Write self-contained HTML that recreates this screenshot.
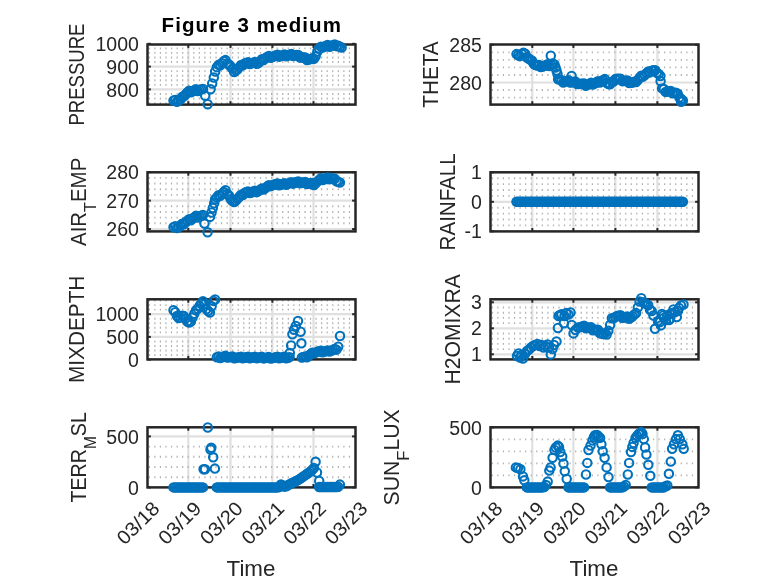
<!DOCTYPE html><html><head><meta charset="utf-8"><style>html,body{margin:0;padding:0;background:#fff;width:778px;height:583px;overflow:hidden}svg{display:block;will-change:transform}text{font-family:"Liberation Sans",sans-serif}</style></head><body>
<svg width="778" height="583" viewBox="0 0 778 583">
<g>
<line x1="188.3" y1="44.5" x2="188.3" y2="104.6" stroke="#e0e0e0" stroke-width="2.2"/>
<line x1="230.5" y1="44.5" x2="230.5" y2="104.6" stroke="#e0e0e0" stroke-width="2.2"/>
<line x1="272.4" y1="44.5" x2="272.4" y2="104.6" stroke="#e0e0e0" stroke-width="2.2"/>
<line x1="313.5" y1="44.5" x2="313.5" y2="104.6" stroke="#e0e0e0" stroke-width="2.2"/>
<line x1="147.5" y1="66.6" x2="355.5" y2="66.6" stroke="#e0e0e0" stroke-width="2.2"/>
<line x1="147.5" y1="89.4" x2="355.5" y2="89.4" stroke="#e0e0e0" stroke-width="2.2"/>
<line x1="148.7" y1="103.08" x2="354.3" y2="103.08" stroke="#b0b0b0" stroke-width="1.9" stroke-dasharray="1.2 4.36" stroke-dashoffset="-0"/>
<line x1="148.7" y1="98.52" x2="354.3" y2="98.52" stroke="#b0b0b0" stroke-width="1.9" stroke-dasharray="1.2 4.36" stroke-dashoffset="-0"/>
<line x1="148.7" y1="93.96" x2="354.3" y2="93.96" stroke="#b0b0b0" stroke-width="1.9" stroke-dasharray="1.2 4.36" stroke-dashoffset="-0"/>
<line x1="148.7" y1="84.84" x2="354.3" y2="84.84" stroke="#b0b0b0" stroke-width="1.9" stroke-dasharray="1.2 4.36" stroke-dashoffset="-0"/>
<line x1="148.7" y1="80.28" x2="354.3" y2="80.28" stroke="#b0b0b0" stroke-width="1.9" stroke-dasharray="1.2 4.36" stroke-dashoffset="-0"/>
<line x1="148.7" y1="75.72" x2="354.3" y2="75.72" stroke="#b0b0b0" stroke-width="1.9" stroke-dasharray="1.2 4.36" stroke-dashoffset="-0"/>
<line x1="148.7" y1="71.16" x2="354.3" y2="71.16" stroke="#b0b0b0" stroke-width="1.9" stroke-dasharray="1.2 4.36" stroke-dashoffset="-0"/>
<line x1="148.7" y1="62.04" x2="354.3" y2="62.04" stroke="#b0b0b0" stroke-width="1.9" stroke-dasharray="1.2 4.36" stroke-dashoffset="-0"/>
<line x1="148.7" y1="57.48" x2="354.3" y2="57.48" stroke="#b0b0b0" stroke-width="1.9" stroke-dasharray="1.2 4.36" stroke-dashoffset="-0"/>
<line x1="148.7" y1="52.92" x2="354.3" y2="52.92" stroke="#b0b0b0" stroke-width="1.9" stroke-dasharray="1.2 4.36" stroke-dashoffset="-0"/>
<line x1="148.7" y1="48.36" x2="354.3" y2="48.36" stroke="#b0b0b0" stroke-width="1.9" stroke-dasharray="1.2 4.36" stroke-dashoffset="-0"/>
<line x1="188.3" y1="104.6" x2="188.3" y2="101.2" stroke="#262626" stroke-width="2"/>
<line x1="188.3" y1="44.5" x2="188.3" y2="47.9" stroke="#262626" stroke-width="2"/>
<line x1="230.5" y1="104.6" x2="230.5" y2="101.2" stroke="#262626" stroke-width="2"/>
<line x1="230.5" y1="44.5" x2="230.5" y2="47.9" stroke="#262626" stroke-width="2"/>
<line x1="272.4" y1="104.6" x2="272.4" y2="101.2" stroke="#262626" stroke-width="2"/>
<line x1="272.4" y1="44.5" x2="272.4" y2="47.9" stroke="#262626" stroke-width="2"/>
<line x1="313.5" y1="104.6" x2="313.5" y2="101.2" stroke="#262626" stroke-width="2"/>
<line x1="313.5" y1="44.5" x2="313.5" y2="47.9" stroke="#262626" stroke-width="2"/>
<line x1="147.5" y1="43.8" x2="150.9" y2="43.8" stroke="#262626" stroke-width="2"/>
<line x1="355.5" y1="43.8" x2="352.1" y2="43.8" stroke="#262626" stroke-width="2"/>
<line x1="147.5" y1="66.6" x2="150.9" y2="66.6" stroke="#262626" stroke-width="2"/>
<line x1="355.5" y1="66.6" x2="352.1" y2="66.6" stroke="#262626" stroke-width="2"/>
<line x1="147.5" y1="89.4" x2="150.9" y2="89.4" stroke="#262626" stroke-width="2"/>
<line x1="355.5" y1="89.4" x2="352.1" y2="89.4" stroke="#262626" stroke-width="2"/>
<rect x="147.5" y="44.5" width="208" height="60.1" fill="none" stroke="#262626" stroke-width="2.5"/>
<text transform="translate(138.9,50.9) scale(1.0,1)" x="0" y="0" font-size="19.5" fill="#262626" text-anchor="end">1000</text>
<text transform="translate(138.9,73.7) scale(1.0,1)" x="0" y="0" font-size="19.5" fill="#262626" text-anchor="end">900</text>
<text transform="translate(138.9,96.5) scale(1.0,1)" x="0" y="0" font-size="19.5" fill="#262626" text-anchor="end">800</text>
<text transform="translate(83.8,74.55) rotate(-90) scale(0.8621,1)" x="0" y="0" font-size="21.5" fill="#262626" text-anchor="middle"><tspan>PRESSURE</tspan></text>
<circle cx="173.5" cy="100.6" r="4.2" fill="none" stroke="#0072bd" stroke-width="2.1"/>
<circle cx="175.23" cy="99.88" r="4.2" fill="none" stroke="#0072bd" stroke-width="2.1"/>
<circle cx="176.97" cy="101.76" r="4.2" fill="none" stroke="#0072bd" stroke-width="2.1"/>
<circle cx="178.7" cy="100.58" r="4.2" fill="none" stroke="#0072bd" stroke-width="2.1"/>
<circle cx="180.43" cy="99.4" r="4.2" fill="none" stroke="#0072bd" stroke-width="2.1"/>
<circle cx="182.17" cy="96.84" r="4.2" fill="none" stroke="#0072bd" stroke-width="2.1"/>
<circle cx="183.9" cy="96.22" r="4.2" fill="none" stroke="#0072bd" stroke-width="2.1"/>
<circle cx="185.63" cy="94.34" r="4.2" fill="none" stroke="#0072bd" stroke-width="2.1"/>
<circle cx="187.37" cy="92.54" r="4.2" fill="none" stroke="#0072bd" stroke-width="2.1"/>
<circle cx="189.1" cy="90.78" r="4.2" fill="none" stroke="#0072bd" stroke-width="2.1"/>
<circle cx="190.83" cy="92.3" r="4.2" fill="none" stroke="#0072bd" stroke-width="2.1"/>
<circle cx="192.57" cy="91.21" r="4.2" fill="none" stroke="#0072bd" stroke-width="2.1"/>
<circle cx="194.3" cy="90.13" r="4.2" fill="none" stroke="#0072bd" stroke-width="2.1"/>
<circle cx="196.03" cy="89.2" r="4.2" fill="none" stroke="#0072bd" stroke-width="2.1"/>
<circle cx="197.77" cy="90.98" r="4.2" fill="none" stroke="#0072bd" stroke-width="2.1"/>
<circle cx="199.5" cy="90.15" r="4.2" fill="none" stroke="#0072bd" stroke-width="2.1"/>
<circle cx="201.23" cy="89.38" r="4.2" fill="none" stroke="#0072bd" stroke-width="2.1"/>
<circle cx="202.97" cy="88.9" r="4.2" fill="none" stroke="#0072bd" stroke-width="2.1"/>
<circle cx="205.2" cy="95.8" r="4.2" fill="none" stroke="#0072bd" stroke-width="2.1"/>
<circle cx="207.7" cy="104.2" r="4.2" fill="none" stroke="#0072bd" stroke-width="2.1"/>
<circle cx="210.6" cy="89.2" r="4.2" fill="none" stroke="#0072bd" stroke-width="2.1"/>
<circle cx="212.2" cy="83.5" r="4.2" fill="none" stroke="#0072bd" stroke-width="2.1"/>
<circle cx="213.8" cy="77.5" r="4.2" fill="none" stroke="#0072bd" stroke-width="2.1"/>
<circle cx="215.2" cy="71.5" r="4.2" fill="none" stroke="#0072bd" stroke-width="2.1"/>
<circle cx="216.83" cy="67.13" r="4.2" fill="none" stroke="#0072bd" stroke-width="2.1"/>
<circle cx="218.57" cy="64.87" r="4.2" fill="none" stroke="#0072bd" stroke-width="2.1"/>
<circle cx="220.3" cy="65.21" r="4.2" fill="none" stroke="#0072bd" stroke-width="2.1"/>
<circle cx="222.03" cy="63.21" r="4.2" fill="none" stroke="#0072bd" stroke-width="2.1"/>
<circle cx="223.77" cy="61.24" r="4.2" fill="none" stroke="#0072bd" stroke-width="2.1"/>
<circle cx="225.5" cy="60.09" r="4.2" fill="none" stroke="#0072bd" stroke-width="2.1"/>
<circle cx="227.23" cy="63.59" r="4.2" fill="none" stroke="#0072bd" stroke-width="2.1"/>
<circle cx="228.97" cy="64.48" r="4.2" fill="none" stroke="#0072bd" stroke-width="2.1"/>
<circle cx="230.7" cy="66.54" r="4.2" fill="none" stroke="#0072bd" stroke-width="2.1"/>
<circle cx="232.43" cy="68.61" r="4.2" fill="none" stroke="#0072bd" stroke-width="2.1"/>
<circle cx="234.17" cy="71.95" r="4.2" fill="none" stroke="#0072bd" stroke-width="2.1"/>
<circle cx="235.9" cy="70.56" r="4.2" fill="none" stroke="#0072bd" stroke-width="2.1"/>
<circle cx="237.63" cy="69.17" r="4.2" fill="none" stroke="#0072bd" stroke-width="2.1"/>
<circle cx="239.37" cy="67.13" r="4.2" fill="none" stroke="#0072bd" stroke-width="2.1"/>
<circle cx="241.1" cy="64.92" r="4.2" fill="none" stroke="#0072bd" stroke-width="2.1"/>
<circle cx="242.83" cy="65.31" r="4.2" fill="none" stroke="#0072bd" stroke-width="2.1"/>
<circle cx="244.57" cy="63.59" r="4.2" fill="none" stroke="#0072bd" stroke-width="2.1"/>
<circle cx="246.3" cy="62.88" r="4.2" fill="none" stroke="#0072bd" stroke-width="2.1"/>
<circle cx="248.03" cy="62.18" r="4.2" fill="none" stroke="#0072bd" stroke-width="2.1"/>
<circle cx="249.77" cy="64.07" r="4.2" fill="none" stroke="#0072bd" stroke-width="2.1"/>
<circle cx="251.5" cy="63.36" r="4.2" fill="none" stroke="#0072bd" stroke-width="2.1"/>
<circle cx="253.23" cy="62.66" r="4.2" fill="none" stroke="#0072bd" stroke-width="2.1"/>
<circle cx="254.97" cy="61.96" r="4.2" fill="none" stroke="#0072bd" stroke-width="2.1"/>
<circle cx="256.7" cy="63.86" r="4.2" fill="none" stroke="#0072bd" stroke-width="2.1"/>
<circle cx="258.43" cy="63.15" r="4.2" fill="none" stroke="#0072bd" stroke-width="2.1"/>
<circle cx="260.17" cy="61.19" r="4.2" fill="none" stroke="#0072bd" stroke-width="2.1"/>
<circle cx="261.9" cy="59.19" r="4.2" fill="none" stroke="#0072bd" stroke-width="2.1"/>
<circle cx="263.63" cy="59.95" r="4.2" fill="none" stroke="#0072bd" stroke-width="2.1"/>
<circle cx="265.37" cy="58.13" r="4.2" fill="none" stroke="#0072bd" stroke-width="2.1"/>
<circle cx="267.1" cy="57" r="4.2" fill="none" stroke="#0072bd" stroke-width="2.1"/>
<circle cx="268.83" cy="55.99" r="4.2" fill="none" stroke="#0072bd" stroke-width="2.1"/>
<circle cx="270.57" cy="57.67" r="4.2" fill="none" stroke="#0072bd" stroke-width="2.1"/>
<circle cx="272.3" cy="56.94" r="4.2" fill="none" stroke="#0072bd" stroke-width="2.1"/>
<circle cx="274.03" cy="56.21" r="4.2" fill="none" stroke="#0072bd" stroke-width="2.1"/>
<circle cx="275.77" cy="55.49" r="4.2" fill="none" stroke="#0072bd" stroke-width="2.1"/>
<circle cx="277.5" cy="54.76" r="4.2" fill="none" stroke="#0072bd" stroke-width="2.1"/>
<circle cx="279.23" cy="56.63" r="4.2" fill="none" stroke="#0072bd" stroke-width="2.1"/>
<circle cx="280.97" cy="55.88" r="4.2" fill="none" stroke="#0072bd" stroke-width="2.1"/>
<circle cx="282.7" cy="55.14" r="4.2" fill="none" stroke="#0072bd" stroke-width="2.1"/>
<circle cx="284.43" cy="54.39" r="4.2" fill="none" stroke="#0072bd" stroke-width="2.1"/>
<circle cx="286.17" cy="56.25" r="4.2" fill="none" stroke="#0072bd" stroke-width="2.1"/>
<circle cx="287.9" cy="55.51" r="4.2" fill="none" stroke="#0072bd" stroke-width="2.1"/>
<circle cx="289.63" cy="54.76" r="4.2" fill="none" stroke="#0072bd" stroke-width="2.1"/>
<circle cx="291.37" cy="54.02" r="4.2" fill="none" stroke="#0072bd" stroke-width="2.1"/>
<circle cx="293.1" cy="55.92" r="4.2" fill="none" stroke="#0072bd" stroke-width="2.1"/>
<circle cx="294.83" cy="55.3" r="4.2" fill="none" stroke="#0072bd" stroke-width="2.1"/>
<circle cx="296.57" cy="54.88" r="4.2" fill="none" stroke="#0072bd" stroke-width="2.1"/>
<circle cx="298.3" cy="54.88" r="4.2" fill="none" stroke="#0072bd" stroke-width="2.1"/>
<circle cx="300.03" cy="57.48" r="4.2" fill="none" stroke="#0072bd" stroke-width="2.1"/>
<circle cx="301.77" cy="57.48" r="4.2" fill="none" stroke="#0072bd" stroke-width="2.1"/>
<circle cx="303.5" cy="57.48" r="4.2" fill="none" stroke="#0072bd" stroke-width="2.1"/>
<circle cx="305.23" cy="57.48" r="4.2" fill="none" stroke="#0072bd" stroke-width="2.1"/>
<circle cx="306.97" cy="59.98" r="4.2" fill="none" stroke="#0072bd" stroke-width="2.1"/>
<circle cx="308.7" cy="59.52" r="4.2" fill="none" stroke="#0072bd" stroke-width="2.1"/>
<circle cx="310.43" cy="59.05" r="4.2" fill="none" stroke="#0072bd" stroke-width="2.1"/>
<circle cx="312.17" cy="58.58" r="4.2" fill="none" stroke="#0072bd" stroke-width="2.1"/>
<circle cx="313.9" cy="58.87" r="4.2" fill="none" stroke="#0072bd" stroke-width="2.1"/>
<circle cx="315.63" cy="56.32" r="4.2" fill="none" stroke="#0072bd" stroke-width="2.1"/>
<circle cx="317.37" cy="51.54" r="4.2" fill="none" stroke="#0072bd" stroke-width="2.1"/>
<circle cx="319.1" cy="48.58" r="4.2" fill="none" stroke="#0072bd" stroke-width="2.1"/>
<circle cx="320.83" cy="46.65" r="4.2" fill="none" stroke="#0072bd" stroke-width="2.1"/>
<circle cx="322.57" cy="47.66" r="4.2" fill="none" stroke="#0072bd" stroke-width="2.1"/>
<circle cx="324.3" cy="46.74" r="4.2" fill="none" stroke="#0072bd" stroke-width="2.1"/>
<circle cx="326.03" cy="45.82" r="4.2" fill="none" stroke="#0072bd" stroke-width="2.1"/>
<circle cx="327.77" cy="44.9" r="4.2" fill="none" stroke="#0072bd" stroke-width="2.1"/>
<circle cx="329.5" cy="46.74" r="4.2" fill="none" stroke="#0072bd" stroke-width="2.1"/>
<circle cx="331.23" cy="45.97" r="4.2" fill="none" stroke="#0072bd" stroke-width="2.1"/>
<circle cx="332.97" cy="45.21" r="4.2" fill="none" stroke="#0072bd" stroke-width="2.1"/>
<circle cx="334.7" cy="44.41" r="4.2" fill="none" stroke="#0072bd" stroke-width="2.1"/>
<circle cx="336.43" cy="46.16" r="4.2" fill="none" stroke="#0072bd" stroke-width="2.1"/>
<circle cx="338.17" cy="45.8" r="4.2" fill="none" stroke="#0072bd" stroke-width="2.1"/>
<circle cx="339.9" cy="46.77" r="4.2" fill="none" stroke="#0072bd" stroke-width="2.1"/>
<circle cx="341.63" cy="47.62" r="4.2" fill="none" stroke="#0072bd" stroke-width="2.1"/>
</g>
<g>
<line x1="532.3" y1="44.5" x2="532.3" y2="104.6" stroke="#e0e0e0" stroke-width="2.2"/>
<line x1="573.4" y1="44.5" x2="573.4" y2="104.6" stroke="#e0e0e0" stroke-width="2.2"/>
<line x1="615.4" y1="44.5" x2="615.4" y2="104.6" stroke="#e0e0e0" stroke-width="2.2"/>
<line x1="657.4" y1="44.5" x2="657.4" y2="104.6" stroke="#e0e0e0" stroke-width="2.2"/>
<line x1="490.5" y1="82.5" x2="698.5" y2="82.5" stroke="#e0e0e0" stroke-width="2.2"/>
<line x1="491.7" y1="97.58" x2="697.3" y2="97.58" stroke="#b0b0b0" stroke-width="1.9" stroke-dasharray="1.2 4.36" stroke-dashoffset="-0"/>
<line x1="491.7" y1="90.04" x2="697.3" y2="90.04" stroke="#b0b0b0" stroke-width="1.9" stroke-dasharray="1.2 4.36" stroke-dashoffset="-0"/>
<line x1="491.7" y1="74.96" x2="697.3" y2="74.96" stroke="#b0b0b0" stroke-width="1.9" stroke-dasharray="1.2 4.36" stroke-dashoffset="-0"/>
<line x1="491.7" y1="67.42" x2="697.3" y2="67.42" stroke="#b0b0b0" stroke-width="1.9" stroke-dasharray="1.2 4.36" stroke-dashoffset="-0"/>
<line x1="491.7" y1="59.88" x2="697.3" y2="59.88" stroke="#b0b0b0" stroke-width="1.9" stroke-dasharray="1.2 4.36" stroke-dashoffset="-0"/>
<line x1="491.7" y1="52.34" x2="697.3" y2="52.34" stroke="#b0b0b0" stroke-width="1.9" stroke-dasharray="1.2 4.36" stroke-dashoffset="-0"/>
<line x1="532.3" y1="104.6" x2="532.3" y2="101.2" stroke="#262626" stroke-width="2"/>
<line x1="532.3" y1="44.5" x2="532.3" y2="47.9" stroke="#262626" stroke-width="2"/>
<line x1="573.4" y1="104.6" x2="573.4" y2="101.2" stroke="#262626" stroke-width="2"/>
<line x1="573.4" y1="44.5" x2="573.4" y2="47.9" stroke="#262626" stroke-width="2"/>
<line x1="615.4" y1="104.6" x2="615.4" y2="101.2" stroke="#262626" stroke-width="2"/>
<line x1="615.4" y1="44.5" x2="615.4" y2="47.9" stroke="#262626" stroke-width="2"/>
<line x1="657.4" y1="104.6" x2="657.4" y2="101.2" stroke="#262626" stroke-width="2"/>
<line x1="657.4" y1="44.5" x2="657.4" y2="47.9" stroke="#262626" stroke-width="2"/>
<line x1="490.5" y1="44.8" x2="493.9" y2="44.8" stroke="#262626" stroke-width="2"/>
<line x1="698.5" y1="44.8" x2="695.1" y2="44.8" stroke="#262626" stroke-width="2"/>
<line x1="490.5" y1="82.5" x2="493.9" y2="82.5" stroke="#262626" stroke-width="2"/>
<line x1="698.5" y1="82.5" x2="695.1" y2="82.5" stroke="#262626" stroke-width="2"/>
<rect x="490.5" y="44.5" width="208" height="60.1" fill="none" stroke="#262626" stroke-width="2.5"/>
<text transform="translate(481.9,51.9) scale(1.0,1)" x="0" y="0" font-size="19.5" fill="#262626" text-anchor="end">285</text>
<text transform="translate(481.9,89.6) scale(1.0,1)" x="0" y="0" font-size="19.5" fill="#262626" text-anchor="end">280</text>
<text transform="translate(437.9,74.55) rotate(-90) scale(0.9638,1)" x="0" y="0" font-size="21.5" fill="#262626" text-anchor="middle"><tspan>THETA</tspan></text>
<circle cx="516.5" cy="54.1" r="4.2" fill="none" stroke="#0072bd" stroke-width="2.1"/>
<circle cx="518.23" cy="55.21" r="4.2" fill="none" stroke="#0072bd" stroke-width="2.1"/>
<circle cx="519.97" cy="56.15" r="4.2" fill="none" stroke="#0072bd" stroke-width="2.1"/>
<circle cx="521.7" cy="53.99" r="4.2" fill="none" stroke="#0072bd" stroke-width="2.1"/>
<circle cx="523.43" cy="52.65" r="4.2" fill="none" stroke="#0072bd" stroke-width="2.1"/>
<circle cx="525.17" cy="53.76" r="4.2" fill="none" stroke="#0072bd" stroke-width="2.1"/>
<circle cx="526.9" cy="57.47" r="4.2" fill="none" stroke="#0072bd" stroke-width="2.1"/>
<circle cx="528.63" cy="58.58" r="4.2" fill="none" stroke="#0072bd" stroke-width="2.1"/>
<circle cx="530.37" cy="59.69" r="4.2" fill="none" stroke="#0072bd" stroke-width="2.1"/>
<circle cx="532.1" cy="60.78" r="4.2" fill="none" stroke="#0072bd" stroke-width="2.1"/>
<circle cx="533.83" cy="64.15" r="4.2" fill="none" stroke="#0072bd" stroke-width="2.1"/>
<circle cx="535.57" cy="64.92" r="4.2" fill="none" stroke="#0072bd" stroke-width="2.1"/>
<circle cx="537.3" cy="65.46" r="4.2" fill="none" stroke="#0072bd" stroke-width="2.1"/>
<circle cx="539.03" cy="64.97" r="4.2" fill="none" stroke="#0072bd" stroke-width="2.1"/>
<circle cx="540.77" cy="67.08" r="4.2" fill="none" stroke="#0072bd" stroke-width="2.1"/>
<circle cx="542.5" cy="66.59" r="4.2" fill="none" stroke="#0072bd" stroke-width="2.1"/>
<circle cx="544.23" cy="65.98" r="4.2" fill="none" stroke="#0072bd" stroke-width="2.1"/>
<circle cx="545.97" cy="65.11" r="4.2" fill="none" stroke="#0072bd" stroke-width="2.1"/>
<circle cx="547.7" cy="64.25" r="4.2" fill="none" stroke="#0072bd" stroke-width="2.1"/>
<circle cx="549.43" cy="65.98" r="4.2" fill="none" stroke="#0072bd" stroke-width="2.1"/>
<circle cx="551.17" cy="65" r="4.2" fill="none" stroke="#0072bd" stroke-width="2.1"/>
<circle cx="552.9" cy="63.59" r="4.2" fill="none" stroke="#0072bd" stroke-width="2.1"/>
<circle cx="550.8" cy="55.7" r="4.2" fill="none" stroke="#0072bd" stroke-width="2.1"/>
<circle cx="554.5" cy="64.5" r="4.2" fill="none" stroke="#0072bd" stroke-width="2.1"/>
<circle cx="555.5" cy="67.5" r="4.2" fill="none" stroke="#0072bd" stroke-width="2.1"/>
<circle cx="556.5" cy="70.5" r="4.2" fill="none" stroke="#0072bd" stroke-width="2.1"/>
<circle cx="557.5" cy="74" r="4.2" fill="none" stroke="#0072bd" stroke-width="2.1"/>
<circle cx="571.6" cy="76" r="4.2" fill="none" stroke="#0072bd" stroke-width="2.1"/>
<circle cx="660.6" cy="81.2" r="4.2" fill="none" stroke="#0072bd" stroke-width="2.1"/>
<circle cx="681.1" cy="101.7" r="4.2" fill="none" stroke="#0072bd" stroke-width="2.1"/>
<circle cx="558.1" cy="79.28" r="4.2" fill="none" stroke="#0072bd" stroke-width="2.1"/>
<circle cx="559.83" cy="79.62" r="4.2" fill="none" stroke="#0072bd" stroke-width="2.1"/>
<circle cx="561.57" cy="80.23" r="4.2" fill="none" stroke="#0072bd" stroke-width="2.1"/>
<circle cx="563.3" cy="82.42" r="4.2" fill="none" stroke="#0072bd" stroke-width="2.1"/>
<circle cx="565.03" cy="81.65" r="4.2" fill="none" stroke="#0072bd" stroke-width="2.1"/>
<circle cx="566.77" cy="80.89" r="4.2" fill="none" stroke="#0072bd" stroke-width="2.1"/>
<circle cx="568.5" cy="80.21" r="4.2" fill="none" stroke="#0072bd" stroke-width="2.1"/>
<circle cx="570.23" cy="82.51" r="4.2" fill="none" stroke="#0072bd" stroke-width="2.1"/>
<circle cx="571.97" cy="82.2" r="4.2" fill="none" stroke="#0072bd" stroke-width="2.1"/>
<circle cx="573.7" cy="81.89" r="4.2" fill="none" stroke="#0072bd" stroke-width="2.1"/>
<circle cx="575.43" cy="81.59" r="4.2" fill="none" stroke="#0072bd" stroke-width="2.1"/>
<circle cx="577.17" cy="84.02" r="4.2" fill="none" stroke="#0072bd" stroke-width="2.1"/>
<circle cx="578.9" cy="83.9" r="4.2" fill="none" stroke="#0072bd" stroke-width="2.1"/>
<circle cx="580.63" cy="83.78" r="4.2" fill="none" stroke="#0072bd" stroke-width="2.1"/>
<circle cx="582.37" cy="83.66" r="4.2" fill="none" stroke="#0072bd" stroke-width="2.1"/>
<circle cx="584.1" cy="83.54" r="4.2" fill="none" stroke="#0072bd" stroke-width="2.1"/>
<circle cx="585.83" cy="85.72" r="4.2" fill="none" stroke="#0072bd" stroke-width="2.1"/>
<circle cx="587.57" cy="84.77" r="4.2" fill="none" stroke="#0072bd" stroke-width="2.1"/>
<circle cx="589.3" cy="83.82" r="4.2" fill="none" stroke="#0072bd" stroke-width="2.1"/>
<circle cx="591.03" cy="82.87" r="4.2" fill="none" stroke="#0072bd" stroke-width="2.1"/>
<circle cx="592.77" cy="84.52" r="4.2" fill="none" stroke="#0072bd" stroke-width="2.1"/>
<circle cx="594.5" cy="83.57" r="4.2" fill="none" stroke="#0072bd" stroke-width="2.1"/>
<circle cx="596.23" cy="82.44" r="4.2" fill="none" stroke="#0072bd" stroke-width="2.1"/>
<circle cx="597.97" cy="81.2" r="4.2" fill="none" stroke="#0072bd" stroke-width="2.1"/>
<circle cx="599.7" cy="82.56" r="4.2" fill="none" stroke="#0072bd" stroke-width="2.1"/>
<circle cx="601.43" cy="81.32" r="4.2" fill="none" stroke="#0072bd" stroke-width="2.1"/>
<circle cx="603.17" cy="80.08" r="4.2" fill="none" stroke="#0072bd" stroke-width="2.1"/>
<circle cx="604.9" cy="79.11" r="4.2" fill="none" stroke="#0072bd" stroke-width="2.1"/>
<circle cx="606.63" cy="82.82" r="4.2" fill="none" stroke="#0072bd" stroke-width="2.1"/>
<circle cx="608.37" cy="83.93" r="4.2" fill="none" stroke="#0072bd" stroke-width="2.1"/>
<circle cx="610.1" cy="84.19" r="4.2" fill="none" stroke="#0072bd" stroke-width="2.1"/>
<circle cx="611.83" cy="81.63" r="4.2" fill="none" stroke="#0072bd" stroke-width="2.1"/>
<circle cx="613.57" cy="81.66" r="4.2" fill="none" stroke="#0072bd" stroke-width="2.1"/>
<circle cx="615.3" cy="79.09" r="4.2" fill="none" stroke="#0072bd" stroke-width="2.1"/>
<circle cx="617.03" cy="78.85" r="4.2" fill="none" stroke="#0072bd" stroke-width="2.1"/>
<circle cx="618.77" cy="78.75" r="4.2" fill="none" stroke="#0072bd" stroke-width="2.1"/>
<circle cx="620.5" cy="78.64" r="4.2" fill="none" stroke="#0072bd" stroke-width="2.1"/>
<circle cx="622.23" cy="81.14" r="4.2" fill="none" stroke="#0072bd" stroke-width="2.1"/>
<circle cx="623.97" cy="80.96" r="4.2" fill="none" stroke="#0072bd" stroke-width="2.1"/>
<circle cx="625.7" cy="80.77" r="4.2" fill="none" stroke="#0072bd" stroke-width="2.1"/>
<circle cx="627.43" cy="80.57" r="4.2" fill="none" stroke="#0072bd" stroke-width="2.1"/>
<circle cx="629.17" cy="82.98" r="4.2" fill="none" stroke="#0072bd" stroke-width="2.1"/>
<circle cx="630.9" cy="82.79" r="4.2" fill="none" stroke="#0072bd" stroke-width="2.1"/>
<circle cx="632.63" cy="82.6" r="4.2" fill="none" stroke="#0072bd" stroke-width="2.1"/>
<circle cx="634.37" cy="81.65" r="4.2" fill="none" stroke="#0072bd" stroke-width="2.1"/>
<circle cx="636.1" cy="82.09" r="4.2" fill="none" stroke="#0072bd" stroke-width="2.1"/>
<circle cx="637.83" cy="79.93" r="4.2" fill="none" stroke="#0072bd" stroke-width="2.1"/>
<circle cx="639.57" cy="77.77" r="4.2" fill="none" stroke="#0072bd" stroke-width="2.1"/>
<circle cx="641.3" cy="75.74" r="4.2" fill="none" stroke="#0072bd" stroke-width="2.1"/>
<circle cx="643.03" cy="76.63" r="4.2" fill="none" stroke="#0072bd" stroke-width="2.1"/>
<circle cx="644.77" cy="74.92" r="4.2" fill="none" stroke="#0072bd" stroke-width="2.1"/>
<circle cx="646.5" cy="73.21" r="4.2" fill="none" stroke="#0072bd" stroke-width="2.1"/>
<circle cx="648.23" cy="71.5" r="4.2" fill="none" stroke="#0072bd" stroke-width="2.1"/>
<circle cx="649.97" cy="72.39" r="4.2" fill="none" stroke="#0072bd" stroke-width="2.1"/>
<circle cx="651.7" cy="70.68" r="4.2" fill="none" stroke="#0072bd" stroke-width="2.1"/>
<circle cx="653.43" cy="70.28" r="4.2" fill="none" stroke="#0072bd" stroke-width="2.1"/>
<circle cx="655.17" cy="70.28" r="4.2" fill="none" stroke="#0072bd" stroke-width="2.1"/>
<circle cx="656.9" cy="72.87" r="4.2" fill="none" stroke="#0072bd" stroke-width="2.1"/>
<circle cx="658.63" cy="73.91" r="4.2" fill="none" stroke="#0072bd" stroke-width="2.1"/>
<circle cx="660.37" cy="76.02" r="4.2" fill="none" stroke="#0072bd" stroke-width="2.1"/>
<circle cx="662.1" cy="88.4" r="4.2" fill="none" stroke="#0072bd" stroke-width="2.1"/>
<circle cx="663.83" cy="88.89" r="4.2" fill="none" stroke="#0072bd" stroke-width="2.1"/>
<circle cx="665.57" cy="91.89" r="4.2" fill="none" stroke="#0072bd" stroke-width="2.1"/>
<circle cx="667.3" cy="91.6" r="4.2" fill="none" stroke="#0072bd" stroke-width="2.1"/>
<circle cx="669.03" cy="91.32" r="4.2" fill="none" stroke="#0072bd" stroke-width="2.1"/>
<circle cx="670.77" cy="91.03" r="4.2" fill="none" stroke="#0072bd" stroke-width="2.1"/>
<circle cx="672.5" cy="93.35" r="4.2" fill="none" stroke="#0072bd" stroke-width="2.1"/>
<circle cx="674.23" cy="93.07" r="4.2" fill="none" stroke="#0072bd" stroke-width="2.1"/>
<circle cx="675.97" cy="92.78" r="4.2" fill="none" stroke="#0072bd" stroke-width="2.1"/>
<circle cx="677.7" cy="93.71" r="4.2" fill="none" stroke="#0072bd" stroke-width="2.1"/>
<circle cx="679.43" cy="97.42" r="4.2" fill="none" stroke="#0072bd" stroke-width="2.1"/>
<circle cx="681.17" cy="98.92" r="4.2" fill="none" stroke="#0072bd" stroke-width="2.1"/>
<circle cx="682.9" cy="100.61" r="4.2" fill="none" stroke="#0072bd" stroke-width="2.1"/>
</g>
<g>
<line x1="188.3" y1="172.3" x2="188.3" y2="231.4" stroke="#e0e0e0" stroke-width="2.2"/>
<line x1="230.5" y1="172.3" x2="230.5" y2="231.4" stroke="#e0e0e0" stroke-width="2.2"/>
<line x1="272.4" y1="172.3" x2="272.4" y2="231.4" stroke="#e0e0e0" stroke-width="2.2"/>
<line x1="313.5" y1="172.3" x2="313.5" y2="231.4" stroke="#e0e0e0" stroke-width="2.2"/>
<line x1="147.5" y1="200.6" x2="355.5" y2="200.6" stroke="#e0e0e0" stroke-width="2.2"/>
<line x1="147.5" y1="229" x2="355.5" y2="229" stroke="#e0e0e0" stroke-width="2.2"/>
<line x1="148.7" y1="223.32" x2="354.3" y2="223.32" stroke="#b0b0b0" stroke-width="1.9" stroke-dasharray="1.2 4.36" stroke-dashoffset="-0"/>
<line x1="148.7" y1="217.64" x2="354.3" y2="217.64" stroke="#b0b0b0" stroke-width="1.9" stroke-dasharray="1.2 4.36" stroke-dashoffset="-0"/>
<line x1="148.7" y1="211.96" x2="354.3" y2="211.96" stroke="#b0b0b0" stroke-width="1.9" stroke-dasharray="1.2 4.36" stroke-dashoffset="-0"/>
<line x1="148.7" y1="206.28" x2="354.3" y2="206.28" stroke="#b0b0b0" stroke-width="1.9" stroke-dasharray="1.2 4.36" stroke-dashoffset="-0"/>
<line x1="148.7" y1="194.92" x2="354.3" y2="194.92" stroke="#b0b0b0" stroke-width="1.9" stroke-dasharray="1.2 4.36" stroke-dashoffset="-0"/>
<line x1="148.7" y1="189.24" x2="354.3" y2="189.24" stroke="#b0b0b0" stroke-width="1.9" stroke-dasharray="1.2 4.36" stroke-dashoffset="-0"/>
<line x1="148.7" y1="183.56" x2="354.3" y2="183.56" stroke="#b0b0b0" stroke-width="1.9" stroke-dasharray="1.2 4.36" stroke-dashoffset="-0"/>
<line x1="148.7" y1="177.88" x2="354.3" y2="177.88" stroke="#b0b0b0" stroke-width="1.9" stroke-dasharray="1.2 4.36" stroke-dashoffset="-0"/>
<line x1="188.3" y1="231.4" x2="188.3" y2="228" stroke="#262626" stroke-width="2"/>
<line x1="188.3" y1="172.3" x2="188.3" y2="175.7" stroke="#262626" stroke-width="2"/>
<line x1="230.5" y1="231.4" x2="230.5" y2="228" stroke="#262626" stroke-width="2"/>
<line x1="230.5" y1="172.3" x2="230.5" y2="175.7" stroke="#262626" stroke-width="2"/>
<line x1="272.4" y1="231.4" x2="272.4" y2="228" stroke="#262626" stroke-width="2"/>
<line x1="272.4" y1="172.3" x2="272.4" y2="175.7" stroke="#262626" stroke-width="2"/>
<line x1="313.5" y1="231.4" x2="313.5" y2="228" stroke="#262626" stroke-width="2"/>
<line x1="313.5" y1="172.3" x2="313.5" y2="175.7" stroke="#262626" stroke-width="2"/>
<line x1="147.5" y1="172.2" x2="150.9" y2="172.2" stroke="#262626" stroke-width="2"/>
<line x1="355.5" y1="172.2" x2="352.1" y2="172.2" stroke="#262626" stroke-width="2"/>
<line x1="147.5" y1="200.6" x2="150.9" y2="200.6" stroke="#262626" stroke-width="2"/>
<line x1="355.5" y1="200.6" x2="352.1" y2="200.6" stroke="#262626" stroke-width="2"/>
<line x1="147.5" y1="229" x2="150.9" y2="229" stroke="#262626" stroke-width="2"/>
<line x1="355.5" y1="229" x2="352.1" y2="229" stroke="#262626" stroke-width="2"/>
<rect x="147.5" y="172.3" width="208" height="59.1" fill="none" stroke="#262626" stroke-width="2.5"/>
<text transform="translate(138.9,179.3) scale(1.0,1)" x="0" y="0" font-size="19.5" fill="#262626" text-anchor="end">280</text>
<text transform="translate(138.9,207.7) scale(1.0,1)" x="0" y="0" font-size="19.5" fill="#262626" text-anchor="end">270</text>
<text transform="translate(138.9,236.1) scale(1.0,1)" x="0" y="0" font-size="19.5" fill="#262626" text-anchor="end">260</text>
<text transform="translate(85.8,201.85) rotate(-90) scale(0.9511,1)" x="0" y="0" font-size="21.5" fill="#262626" text-anchor="middle"><tspan>AIR</tspan><tspan font-size="17" dy="10.2">T</tspan><tspan font-size="21.5" dy="-10.2">EMP</tspan></text>
<circle cx="173.5" cy="227.13" r="4.2" fill="none" stroke="#0072bd" stroke-width="2.1"/>
<circle cx="175.23" cy="226.36" r="4.2" fill="none" stroke="#0072bd" stroke-width="2.1"/>
<circle cx="176.97" cy="228" r="4.2" fill="none" stroke="#0072bd" stroke-width="2.1"/>
<circle cx="178.7" cy="226.96" r="4.2" fill="none" stroke="#0072bd" stroke-width="2.1"/>
<circle cx="180.43" cy="225.52" r="4.2" fill="none" stroke="#0072bd" stroke-width="2.1"/>
<circle cx="182.17" cy="223.73" r="4.2" fill="none" stroke="#0072bd" stroke-width="2.1"/>
<circle cx="183.9" cy="224.17" r="4.2" fill="none" stroke="#0072bd" stroke-width="2.1"/>
<circle cx="185.63" cy="222.21" r="4.2" fill="none" stroke="#0072bd" stroke-width="2.1"/>
<circle cx="187.37" cy="220.66" r="4.2" fill="none" stroke="#0072bd" stroke-width="2.1"/>
<circle cx="189.1" cy="219.22" r="4.2" fill="none" stroke="#0072bd" stroke-width="2.1"/>
<circle cx="190.83" cy="220.18" r="4.2" fill="none" stroke="#0072bd" stroke-width="2.1"/>
<circle cx="192.57" cy="218.74" r="4.2" fill="none" stroke="#0072bd" stroke-width="2.1"/>
<circle cx="194.3" cy="217.3" r="4.2" fill="none" stroke="#0072bd" stroke-width="2.1"/>
<circle cx="196.03" cy="215.87" r="4.2" fill="none" stroke="#0072bd" stroke-width="2.1"/>
<circle cx="197.77" cy="217.45" r="4.2" fill="none" stroke="#0072bd" stroke-width="2.1"/>
<circle cx="199.5" cy="216.63" r="4.2" fill="none" stroke="#0072bd" stroke-width="2.1"/>
<circle cx="201.23" cy="215.8" r="4.2" fill="none" stroke="#0072bd" stroke-width="2.1"/>
<circle cx="202.97" cy="214.98" r="4.2" fill="none" stroke="#0072bd" stroke-width="2.1"/>
<circle cx="204.5" cy="223.6" r="4.2" fill="none" stroke="#0072bd" stroke-width="2.1"/>
<circle cx="207.6" cy="232.3" r="4.2" fill="none" stroke="#0072bd" stroke-width="2.1"/>
<circle cx="210" cy="216.9" r="4.2" fill="none" stroke="#0072bd" stroke-width="2.1"/>
<circle cx="211.5" cy="212.5" r="4.2" fill="none" stroke="#0072bd" stroke-width="2.1"/>
<circle cx="212.8" cy="208" r="4.2" fill="none" stroke="#0072bd" stroke-width="2.1"/>
<circle cx="214.2" cy="203.3" r="4.2" fill="none" stroke="#0072bd" stroke-width="2.1"/>
<circle cx="215.1" cy="199.26" r="4.2" fill="none" stroke="#0072bd" stroke-width="2.1"/>
<circle cx="216.83" cy="197.51" r="4.2" fill="none" stroke="#0072bd" stroke-width="2.1"/>
<circle cx="218.57" cy="195.2" r="4.2" fill="none" stroke="#0072bd" stroke-width="2.1"/>
<circle cx="220.3" cy="195.76" r="4.2" fill="none" stroke="#0072bd" stroke-width="2.1"/>
<circle cx="222.03" cy="193.91" r="4.2" fill="none" stroke="#0072bd" stroke-width="2.1"/>
<circle cx="223.77" cy="192.07" r="4.2" fill="none" stroke="#0072bd" stroke-width="2.1"/>
<circle cx="225.5" cy="190.22" r="4.2" fill="none" stroke="#0072bd" stroke-width="2.1"/>
<circle cx="227.23" cy="194.03" r="4.2" fill="none" stroke="#0072bd" stroke-width="2.1"/>
<circle cx="228.97" cy="195.44" r="4.2" fill="none" stroke="#0072bd" stroke-width="2.1"/>
<circle cx="230.7" cy="199.31" r="4.2" fill="none" stroke="#0072bd" stroke-width="2.1"/>
<circle cx="232.43" cy="200.99" r="4.2" fill="none" stroke="#0072bd" stroke-width="2.1"/>
<circle cx="234.17" cy="202.01" r="4.2" fill="none" stroke="#0072bd" stroke-width="2.1"/>
<circle cx="235.9" cy="200.63" r="4.2" fill="none" stroke="#0072bd" stroke-width="2.1"/>
<circle cx="237.63" cy="198.66" r="4.2" fill="none" stroke="#0072bd" stroke-width="2.1"/>
<circle cx="239.37" cy="196.66" r="4.2" fill="none" stroke="#0072bd" stroke-width="2.1"/>
<circle cx="241.1" cy="194.66" r="4.2" fill="none" stroke="#0072bd" stroke-width="2.1"/>
<circle cx="242.83" cy="195.07" r="4.2" fill="none" stroke="#0072bd" stroke-width="2.1"/>
<circle cx="244.57" cy="193.07" r="4.2" fill="none" stroke="#0072bd" stroke-width="2.1"/>
<circle cx="246.3" cy="192.06" r="4.2" fill="none" stroke="#0072bd" stroke-width="2.1"/>
<circle cx="248.03" cy="191.39" r="4.2" fill="none" stroke="#0072bd" stroke-width="2.1"/>
<circle cx="249.77" cy="193.12" r="4.2" fill="none" stroke="#0072bd" stroke-width="2.1"/>
<circle cx="251.5" cy="192.45" r="4.2" fill="none" stroke="#0072bd" stroke-width="2.1"/>
<circle cx="253.23" cy="191.6" r="4.2" fill="none" stroke="#0072bd" stroke-width="2.1"/>
<circle cx="254.97" cy="190.68" r="4.2" fill="none" stroke="#0072bd" stroke-width="2.1"/>
<circle cx="256.7" cy="192.16" r="4.2" fill="none" stroke="#0072bd" stroke-width="2.1"/>
<circle cx="258.43" cy="191.13" r="4.2" fill="none" stroke="#0072bd" stroke-width="2.1"/>
<circle cx="260.17" cy="189.77" r="4.2" fill="none" stroke="#0072bd" stroke-width="2.1"/>
<circle cx="261.9" cy="188.42" r="4.2" fill="none" stroke="#0072bd" stroke-width="2.1"/>
<circle cx="263.63" cy="189.47" r="4.2" fill="none" stroke="#0072bd" stroke-width="2.1"/>
<circle cx="265.37" cy="188.05" r="4.2" fill="none" stroke="#0072bd" stroke-width="2.1"/>
<circle cx="267.1" cy="186.6" r="4.2" fill="none" stroke="#0072bd" stroke-width="2.1"/>
<circle cx="268.83" cy="185.16" r="4.2" fill="none" stroke="#0072bd" stroke-width="2.1"/>
<circle cx="270.57" cy="186.13" r="4.2" fill="none" stroke="#0072bd" stroke-width="2.1"/>
<circle cx="272.3" cy="185.3" r="4.2" fill="none" stroke="#0072bd" stroke-width="2.1"/>
<circle cx="274.03" cy="184.68" r="4.2" fill="none" stroke="#0072bd" stroke-width="2.1"/>
<circle cx="275.77" cy="184.07" r="4.2" fill="none" stroke="#0072bd" stroke-width="2.1"/>
<circle cx="277.5" cy="183.45" r="4.2" fill="none" stroke="#0072bd" stroke-width="2.1"/>
<circle cx="279.23" cy="185.23" r="4.2" fill="none" stroke="#0072bd" stroke-width="2.1"/>
<circle cx="280.97" cy="184.62" r="4.2" fill="none" stroke="#0072bd" stroke-width="2.1"/>
<circle cx="282.7" cy="184" r="4.2" fill="none" stroke="#0072bd" stroke-width="2.1"/>
<circle cx="284.43" cy="183.18" r="4.2" fill="none" stroke="#0072bd" stroke-width="2.1"/>
<circle cx="286.17" cy="184.72" r="4.2" fill="none" stroke="#0072bd" stroke-width="2.1"/>
<circle cx="287.9" cy="183.86" r="4.2" fill="none" stroke="#0072bd" stroke-width="2.1"/>
<circle cx="289.63" cy="182.99" r="4.2" fill="none" stroke="#0072bd" stroke-width="2.1"/>
<circle cx="291.37" cy="182.13" r="4.2" fill="none" stroke="#0072bd" stroke-width="2.1"/>
<circle cx="293.1" cy="183.66" r="4.2" fill="none" stroke="#0072bd" stroke-width="2.1"/>
<circle cx="294.83" cy="182.8" r="4.2" fill="none" stroke="#0072bd" stroke-width="2.1"/>
<circle cx="296.57" cy="181.93" r="4.2" fill="none" stroke="#0072bd" stroke-width="2.1"/>
<circle cx="298.3" cy="181.42" r="4.2" fill="none" stroke="#0072bd" stroke-width="2.1"/>
<circle cx="300.03" cy="183.34" r="4.2" fill="none" stroke="#0072bd" stroke-width="2.1"/>
<circle cx="301.77" cy="182.86" r="4.2" fill="none" stroke="#0072bd" stroke-width="2.1"/>
<circle cx="303.5" cy="182.39" r="4.2" fill="none" stroke="#0072bd" stroke-width="2.1"/>
<circle cx="305.23" cy="181.99" r="4.2" fill="none" stroke="#0072bd" stroke-width="2.1"/>
<circle cx="306.97" cy="184.03" r="4.2" fill="none" stroke="#0072bd" stroke-width="2.1"/>
<circle cx="308.7" cy="183.66" r="4.2" fill="none" stroke="#0072bd" stroke-width="2.1"/>
<circle cx="310.43" cy="183.3" r="4.2" fill="none" stroke="#0072bd" stroke-width="2.1"/>
<circle cx="312.17" cy="182.93" r="4.2" fill="none" stroke="#0072bd" stroke-width="2.1"/>
<circle cx="313.9" cy="184.97" r="4.2" fill="none" stroke="#0072bd" stroke-width="2.1"/>
<circle cx="315.63" cy="183.31" r="4.2" fill="none" stroke="#0072bd" stroke-width="2.1"/>
<circle cx="317.37" cy="181.66" r="4.2" fill="none" stroke="#0072bd" stroke-width="2.1"/>
<circle cx="319.1" cy="180.01" r="4.2" fill="none" stroke="#0072bd" stroke-width="2.1"/>
<circle cx="320.83" cy="178.37" r="4.2" fill="none" stroke="#0072bd" stroke-width="2.1"/>
<circle cx="322.57" cy="179.98" r="4.2" fill="none" stroke="#0072bd" stroke-width="2.1"/>
<circle cx="324.3" cy="179.19" r="4.2" fill="none" stroke="#0072bd" stroke-width="2.1"/>
<circle cx="326.03" cy="178.4" r="4.2" fill="none" stroke="#0072bd" stroke-width="2.1"/>
<circle cx="327.77" cy="177.61" r="4.2" fill="none" stroke="#0072bd" stroke-width="2.1"/>
<circle cx="329.5" cy="179.22" r="4.2" fill="none" stroke="#0072bd" stroke-width="2.1"/>
<circle cx="331.23" cy="178.45" r="4.2" fill="none" stroke="#0072bd" stroke-width="2.1"/>
<circle cx="332.97" cy="178.58" r="4.2" fill="none" stroke="#0072bd" stroke-width="2.1"/>
<circle cx="334.7" cy="178.71" r="4.2" fill="none" stroke="#0072bd" stroke-width="2.1"/>
<circle cx="336.43" cy="181.24" r="4.2" fill="none" stroke="#0072bd" stroke-width="2.1"/>
<circle cx="338.17" cy="181.84" r="4.2" fill="none" stroke="#0072bd" stroke-width="2.1"/>
<circle cx="339.9" cy="182.48" r="4.2" fill="none" stroke="#0072bd" stroke-width="2.1"/>
</g>
<g>
<line x1="532.3" y1="172.3" x2="532.3" y2="231.4" stroke="#e0e0e0" stroke-width="2.2"/>
<line x1="573.4" y1="172.3" x2="573.4" y2="231.4" stroke="#e0e0e0" stroke-width="2.2"/>
<line x1="615.4" y1="172.3" x2="615.4" y2="231.4" stroke="#e0e0e0" stroke-width="2.2"/>
<line x1="657.4" y1="172.3" x2="657.4" y2="231.4" stroke="#e0e0e0" stroke-width="2.2"/>
<line x1="490.5" y1="201.8" x2="698.5" y2="201.8" stroke="#e0e0e0" stroke-width="2.2"/>
<line x1="491.7" y1="225.4" x2="697.3" y2="225.4" stroke="#b0b0b0" stroke-width="1.9" stroke-dasharray="1.2 4.36" stroke-dashoffset="-0"/>
<line x1="491.7" y1="219.5" x2="697.3" y2="219.5" stroke="#b0b0b0" stroke-width="1.9" stroke-dasharray="1.2 4.36" stroke-dashoffset="-0"/>
<line x1="491.7" y1="213.6" x2="697.3" y2="213.6" stroke="#b0b0b0" stroke-width="1.9" stroke-dasharray="1.2 4.36" stroke-dashoffset="-0"/>
<line x1="491.7" y1="207.7" x2="697.3" y2="207.7" stroke="#b0b0b0" stroke-width="1.9" stroke-dasharray="1.2 4.36" stroke-dashoffset="-0"/>
<line x1="491.7" y1="195.9" x2="697.3" y2="195.9" stroke="#b0b0b0" stroke-width="1.9" stroke-dasharray="1.2 4.36" stroke-dashoffset="-0"/>
<line x1="491.7" y1="190" x2="697.3" y2="190" stroke="#b0b0b0" stroke-width="1.9" stroke-dasharray="1.2 4.36" stroke-dashoffset="-0"/>
<line x1="491.7" y1="184.1" x2="697.3" y2="184.1" stroke="#b0b0b0" stroke-width="1.9" stroke-dasharray="1.2 4.36" stroke-dashoffset="-0"/>
<line x1="491.7" y1="178.2" x2="697.3" y2="178.2" stroke="#b0b0b0" stroke-width="1.9" stroke-dasharray="1.2 4.36" stroke-dashoffset="-0"/>
<line x1="532.3" y1="231.4" x2="532.3" y2="228" stroke="#262626" stroke-width="2"/>
<line x1="532.3" y1="172.3" x2="532.3" y2="175.7" stroke="#262626" stroke-width="2"/>
<line x1="573.4" y1="231.4" x2="573.4" y2="228" stroke="#262626" stroke-width="2"/>
<line x1="573.4" y1="172.3" x2="573.4" y2="175.7" stroke="#262626" stroke-width="2"/>
<line x1="615.4" y1="231.4" x2="615.4" y2="228" stroke="#262626" stroke-width="2"/>
<line x1="615.4" y1="172.3" x2="615.4" y2="175.7" stroke="#262626" stroke-width="2"/>
<line x1="657.4" y1="231.4" x2="657.4" y2="228" stroke="#262626" stroke-width="2"/>
<line x1="657.4" y1="172.3" x2="657.4" y2="175.7" stroke="#262626" stroke-width="2"/>
<line x1="490.5" y1="172.3" x2="493.9" y2="172.3" stroke="#262626" stroke-width="2"/>
<line x1="698.5" y1="172.3" x2="695.1" y2="172.3" stroke="#262626" stroke-width="2"/>
<line x1="490.5" y1="201.8" x2="493.9" y2="201.8" stroke="#262626" stroke-width="2"/>
<line x1="698.5" y1="201.8" x2="695.1" y2="201.8" stroke="#262626" stroke-width="2"/>
<line x1="490.5" y1="231.3" x2="493.9" y2="231.3" stroke="#262626" stroke-width="2"/>
<line x1="698.5" y1="231.3" x2="695.1" y2="231.3" stroke="#262626" stroke-width="2"/>
<rect x="490.5" y="172.3" width="208" height="59.1" fill="none" stroke="#262626" stroke-width="2.5"/>
<text transform="translate(481.9,179.4) scale(1.0,1)" x="0" y="0" font-size="19.5" fill="#262626" text-anchor="end">1</text>
<text transform="translate(481.9,208.9) scale(1.0,1)" x="0" y="0" font-size="19.5" fill="#262626" text-anchor="end">0</text>
<text transform="translate(481.9,238.4) scale(1.0,1)" x="0" y="0" font-size="19.5" fill="#262626" text-anchor="end">-1</text>
<text transform="translate(454.6,201.85) rotate(-90) scale(0.9566,1)" x="0" y="0" font-size="21.5" fill="#262626" text-anchor="middle"><tspan>RAINFALL</tspan></text>
<circle cx="516.5" cy="201.8" r="4.2" fill="none" stroke="#0072bd" stroke-width="2.1"/>
<circle cx="518.23" cy="201.8" r="4.2" fill="none" stroke="#0072bd" stroke-width="2.1"/>
<circle cx="519.97" cy="201.8" r="4.2" fill="none" stroke="#0072bd" stroke-width="2.1"/>
<circle cx="521.7" cy="201.8" r="4.2" fill="none" stroke="#0072bd" stroke-width="2.1"/>
<circle cx="523.43" cy="201.8" r="4.2" fill="none" stroke="#0072bd" stroke-width="2.1"/>
<circle cx="525.17" cy="201.8" r="4.2" fill="none" stroke="#0072bd" stroke-width="2.1"/>
<circle cx="526.9" cy="201.8" r="4.2" fill="none" stroke="#0072bd" stroke-width="2.1"/>
<circle cx="528.63" cy="201.8" r="4.2" fill="none" stroke="#0072bd" stroke-width="2.1"/>
<circle cx="530.37" cy="201.8" r="4.2" fill="none" stroke="#0072bd" stroke-width="2.1"/>
<circle cx="532.1" cy="201.8" r="4.2" fill="none" stroke="#0072bd" stroke-width="2.1"/>
<circle cx="533.83" cy="201.8" r="4.2" fill="none" stroke="#0072bd" stroke-width="2.1"/>
<circle cx="535.57" cy="201.8" r="4.2" fill="none" stroke="#0072bd" stroke-width="2.1"/>
<circle cx="537.3" cy="201.8" r="4.2" fill="none" stroke="#0072bd" stroke-width="2.1"/>
<circle cx="539.03" cy="201.8" r="4.2" fill="none" stroke="#0072bd" stroke-width="2.1"/>
<circle cx="540.77" cy="201.8" r="4.2" fill="none" stroke="#0072bd" stroke-width="2.1"/>
<circle cx="542.5" cy="201.8" r="4.2" fill="none" stroke="#0072bd" stroke-width="2.1"/>
<circle cx="544.23" cy="201.8" r="4.2" fill="none" stroke="#0072bd" stroke-width="2.1"/>
<circle cx="545.97" cy="201.8" r="4.2" fill="none" stroke="#0072bd" stroke-width="2.1"/>
<circle cx="547.7" cy="201.8" r="4.2" fill="none" stroke="#0072bd" stroke-width="2.1"/>
<circle cx="549.43" cy="201.8" r="4.2" fill="none" stroke="#0072bd" stroke-width="2.1"/>
<circle cx="551.17" cy="201.8" r="4.2" fill="none" stroke="#0072bd" stroke-width="2.1"/>
<circle cx="552.9" cy="201.8" r="4.2" fill="none" stroke="#0072bd" stroke-width="2.1"/>
<circle cx="554.63" cy="201.8" r="4.2" fill="none" stroke="#0072bd" stroke-width="2.1"/>
<circle cx="556.37" cy="201.8" r="4.2" fill="none" stroke="#0072bd" stroke-width="2.1"/>
<circle cx="558.1" cy="201.8" r="4.2" fill="none" stroke="#0072bd" stroke-width="2.1"/>
<circle cx="559.83" cy="201.8" r="4.2" fill="none" stroke="#0072bd" stroke-width="2.1"/>
<circle cx="561.57" cy="201.8" r="4.2" fill="none" stroke="#0072bd" stroke-width="2.1"/>
<circle cx="563.3" cy="201.8" r="4.2" fill="none" stroke="#0072bd" stroke-width="2.1"/>
<circle cx="565.03" cy="201.8" r="4.2" fill="none" stroke="#0072bd" stroke-width="2.1"/>
<circle cx="566.77" cy="201.8" r="4.2" fill="none" stroke="#0072bd" stroke-width="2.1"/>
<circle cx="568.5" cy="201.8" r="4.2" fill="none" stroke="#0072bd" stroke-width="2.1"/>
<circle cx="570.23" cy="201.8" r="4.2" fill="none" stroke="#0072bd" stroke-width="2.1"/>
<circle cx="571.97" cy="201.8" r="4.2" fill="none" stroke="#0072bd" stroke-width="2.1"/>
<circle cx="573.7" cy="201.8" r="4.2" fill="none" stroke="#0072bd" stroke-width="2.1"/>
<circle cx="575.43" cy="201.8" r="4.2" fill="none" stroke="#0072bd" stroke-width="2.1"/>
<circle cx="577.17" cy="201.8" r="4.2" fill="none" stroke="#0072bd" stroke-width="2.1"/>
<circle cx="578.9" cy="201.8" r="4.2" fill="none" stroke="#0072bd" stroke-width="2.1"/>
<circle cx="580.63" cy="201.8" r="4.2" fill="none" stroke="#0072bd" stroke-width="2.1"/>
<circle cx="582.37" cy="201.8" r="4.2" fill="none" stroke="#0072bd" stroke-width="2.1"/>
<circle cx="584.1" cy="201.8" r="4.2" fill="none" stroke="#0072bd" stroke-width="2.1"/>
<circle cx="585.83" cy="201.8" r="4.2" fill="none" stroke="#0072bd" stroke-width="2.1"/>
<circle cx="587.57" cy="201.8" r="4.2" fill="none" stroke="#0072bd" stroke-width="2.1"/>
<circle cx="589.3" cy="201.8" r="4.2" fill="none" stroke="#0072bd" stroke-width="2.1"/>
<circle cx="591.03" cy="201.8" r="4.2" fill="none" stroke="#0072bd" stroke-width="2.1"/>
<circle cx="592.77" cy="201.8" r="4.2" fill="none" stroke="#0072bd" stroke-width="2.1"/>
<circle cx="594.5" cy="201.8" r="4.2" fill="none" stroke="#0072bd" stroke-width="2.1"/>
<circle cx="596.23" cy="201.8" r="4.2" fill="none" stroke="#0072bd" stroke-width="2.1"/>
<circle cx="597.97" cy="201.8" r="4.2" fill="none" stroke="#0072bd" stroke-width="2.1"/>
<circle cx="599.7" cy="201.8" r="4.2" fill="none" stroke="#0072bd" stroke-width="2.1"/>
<circle cx="601.43" cy="201.8" r="4.2" fill="none" stroke="#0072bd" stroke-width="2.1"/>
<circle cx="603.17" cy="201.8" r="4.2" fill="none" stroke="#0072bd" stroke-width="2.1"/>
<circle cx="604.9" cy="201.8" r="4.2" fill="none" stroke="#0072bd" stroke-width="2.1"/>
<circle cx="606.63" cy="201.8" r="4.2" fill="none" stroke="#0072bd" stroke-width="2.1"/>
<circle cx="608.37" cy="201.8" r="4.2" fill="none" stroke="#0072bd" stroke-width="2.1"/>
<circle cx="610.1" cy="201.8" r="4.2" fill="none" stroke="#0072bd" stroke-width="2.1"/>
<circle cx="611.83" cy="201.8" r="4.2" fill="none" stroke="#0072bd" stroke-width="2.1"/>
<circle cx="613.57" cy="201.8" r="4.2" fill="none" stroke="#0072bd" stroke-width="2.1"/>
<circle cx="615.3" cy="201.8" r="4.2" fill="none" stroke="#0072bd" stroke-width="2.1"/>
<circle cx="617.03" cy="201.8" r="4.2" fill="none" stroke="#0072bd" stroke-width="2.1"/>
<circle cx="618.77" cy="201.8" r="4.2" fill="none" stroke="#0072bd" stroke-width="2.1"/>
<circle cx="620.5" cy="201.8" r="4.2" fill="none" stroke="#0072bd" stroke-width="2.1"/>
<circle cx="622.23" cy="201.8" r="4.2" fill="none" stroke="#0072bd" stroke-width="2.1"/>
<circle cx="623.97" cy="201.8" r="4.2" fill="none" stroke="#0072bd" stroke-width="2.1"/>
<circle cx="625.7" cy="201.8" r="4.2" fill="none" stroke="#0072bd" stroke-width="2.1"/>
<circle cx="627.43" cy="201.8" r="4.2" fill="none" stroke="#0072bd" stroke-width="2.1"/>
<circle cx="629.17" cy="201.8" r="4.2" fill="none" stroke="#0072bd" stroke-width="2.1"/>
<circle cx="630.9" cy="201.8" r="4.2" fill="none" stroke="#0072bd" stroke-width="2.1"/>
<circle cx="632.63" cy="201.8" r="4.2" fill="none" stroke="#0072bd" stroke-width="2.1"/>
<circle cx="634.37" cy="201.8" r="4.2" fill="none" stroke="#0072bd" stroke-width="2.1"/>
<circle cx="636.1" cy="201.8" r="4.2" fill="none" stroke="#0072bd" stroke-width="2.1"/>
<circle cx="637.83" cy="201.8" r="4.2" fill="none" stroke="#0072bd" stroke-width="2.1"/>
<circle cx="639.57" cy="201.8" r="4.2" fill="none" stroke="#0072bd" stroke-width="2.1"/>
<circle cx="641.3" cy="201.8" r="4.2" fill="none" stroke="#0072bd" stroke-width="2.1"/>
<circle cx="643.03" cy="201.8" r="4.2" fill="none" stroke="#0072bd" stroke-width="2.1"/>
<circle cx="644.77" cy="201.8" r="4.2" fill="none" stroke="#0072bd" stroke-width="2.1"/>
<circle cx="646.5" cy="201.8" r="4.2" fill="none" stroke="#0072bd" stroke-width="2.1"/>
<circle cx="648.23" cy="201.8" r="4.2" fill="none" stroke="#0072bd" stroke-width="2.1"/>
<circle cx="649.97" cy="201.8" r="4.2" fill="none" stroke="#0072bd" stroke-width="2.1"/>
<circle cx="651.7" cy="201.8" r="4.2" fill="none" stroke="#0072bd" stroke-width="2.1"/>
<circle cx="653.43" cy="201.8" r="4.2" fill="none" stroke="#0072bd" stroke-width="2.1"/>
<circle cx="655.17" cy="201.8" r="4.2" fill="none" stroke="#0072bd" stroke-width="2.1"/>
<circle cx="656.9" cy="201.8" r="4.2" fill="none" stroke="#0072bd" stroke-width="2.1"/>
<circle cx="658.63" cy="201.8" r="4.2" fill="none" stroke="#0072bd" stroke-width="2.1"/>
<circle cx="660.37" cy="201.8" r="4.2" fill="none" stroke="#0072bd" stroke-width="2.1"/>
<circle cx="662.1" cy="201.8" r="4.2" fill="none" stroke="#0072bd" stroke-width="2.1"/>
<circle cx="663.83" cy="201.8" r="4.2" fill="none" stroke="#0072bd" stroke-width="2.1"/>
<circle cx="665.57" cy="201.8" r="4.2" fill="none" stroke="#0072bd" stroke-width="2.1"/>
<circle cx="667.3" cy="201.8" r="4.2" fill="none" stroke="#0072bd" stroke-width="2.1"/>
<circle cx="669.03" cy="201.8" r="4.2" fill="none" stroke="#0072bd" stroke-width="2.1"/>
<circle cx="670.77" cy="201.8" r="4.2" fill="none" stroke="#0072bd" stroke-width="2.1"/>
<circle cx="672.5" cy="201.8" r="4.2" fill="none" stroke="#0072bd" stroke-width="2.1"/>
<circle cx="674.23" cy="201.8" r="4.2" fill="none" stroke="#0072bd" stroke-width="2.1"/>
<circle cx="675.97" cy="201.8" r="4.2" fill="none" stroke="#0072bd" stroke-width="2.1"/>
<circle cx="677.7" cy="201.8" r="4.2" fill="none" stroke="#0072bd" stroke-width="2.1"/>
<circle cx="679.43" cy="201.8" r="4.2" fill="none" stroke="#0072bd" stroke-width="2.1"/>
<circle cx="681.17" cy="201.8" r="4.2" fill="none" stroke="#0072bd" stroke-width="2.1"/>
<circle cx="682.9" cy="201.8" r="4.2" fill="none" stroke="#0072bd" stroke-width="2.1"/>
</g>
<g>
<line x1="188.3" y1="299.3" x2="188.3" y2="359.4" stroke="#e0e0e0" stroke-width="2.2"/>
<line x1="230.5" y1="299.3" x2="230.5" y2="359.4" stroke="#e0e0e0" stroke-width="2.2"/>
<line x1="272.4" y1="299.3" x2="272.4" y2="359.4" stroke="#e0e0e0" stroke-width="2.2"/>
<line x1="313.5" y1="299.3" x2="313.5" y2="359.4" stroke="#e0e0e0" stroke-width="2.2"/>
<line x1="147.5" y1="314.2" x2="355.5" y2="314.2" stroke="#e0e0e0" stroke-width="2.2"/>
<line x1="147.5" y1="336.9" x2="355.5" y2="336.9" stroke="#e0e0e0" stroke-width="2.2"/>
<line x1="148.7" y1="355.06" x2="354.3" y2="355.06" stroke="#b0b0b0" stroke-width="1.9" stroke-dasharray="1.2 4.36" stroke-dashoffset="-0"/>
<line x1="148.7" y1="350.52" x2="354.3" y2="350.52" stroke="#b0b0b0" stroke-width="1.9" stroke-dasharray="1.2 4.36" stroke-dashoffset="-0"/>
<line x1="148.7" y1="345.98" x2="354.3" y2="345.98" stroke="#b0b0b0" stroke-width="1.9" stroke-dasharray="1.2 4.36" stroke-dashoffset="-0"/>
<line x1="148.7" y1="341.44" x2="354.3" y2="341.44" stroke="#b0b0b0" stroke-width="1.9" stroke-dasharray="1.2 4.36" stroke-dashoffset="-0"/>
<line x1="148.7" y1="332.36" x2="354.3" y2="332.36" stroke="#b0b0b0" stroke-width="1.9" stroke-dasharray="1.2 4.36" stroke-dashoffset="-0"/>
<line x1="148.7" y1="327.82" x2="354.3" y2="327.82" stroke="#b0b0b0" stroke-width="1.9" stroke-dasharray="1.2 4.36" stroke-dashoffset="-0"/>
<line x1="148.7" y1="323.28" x2="354.3" y2="323.28" stroke="#b0b0b0" stroke-width="1.9" stroke-dasharray="1.2 4.36" stroke-dashoffset="-0"/>
<line x1="148.7" y1="318.74" x2="354.3" y2="318.74" stroke="#b0b0b0" stroke-width="1.9" stroke-dasharray="1.2 4.36" stroke-dashoffset="-0"/>
<line x1="148.7" y1="309.66" x2="354.3" y2="309.66" stroke="#b0b0b0" stroke-width="1.9" stroke-dasharray="1.2 4.36" stroke-dashoffset="-0"/>
<line x1="148.7" y1="305.12" x2="354.3" y2="305.12" stroke="#b0b0b0" stroke-width="1.9" stroke-dasharray="1.2 4.36" stroke-dashoffset="-0"/>
<line x1="148.7" y1="300.58" x2="354.3" y2="300.58" stroke="#b0b0b0" stroke-width="1.9" stroke-dasharray="1.2 4.36" stroke-dashoffset="-0"/>
<line x1="188.3" y1="359.4" x2="188.3" y2="356" stroke="#262626" stroke-width="2"/>
<line x1="188.3" y1="299.3" x2="188.3" y2="302.7" stroke="#262626" stroke-width="2"/>
<line x1="230.5" y1="359.4" x2="230.5" y2="356" stroke="#262626" stroke-width="2"/>
<line x1="230.5" y1="299.3" x2="230.5" y2="302.7" stroke="#262626" stroke-width="2"/>
<line x1="272.4" y1="359.4" x2="272.4" y2="356" stroke="#262626" stroke-width="2"/>
<line x1="272.4" y1="299.3" x2="272.4" y2="302.7" stroke="#262626" stroke-width="2"/>
<line x1="313.5" y1="359.4" x2="313.5" y2="356" stroke="#262626" stroke-width="2"/>
<line x1="313.5" y1="299.3" x2="313.5" y2="302.7" stroke="#262626" stroke-width="2"/>
<line x1="147.5" y1="314.2" x2="150.9" y2="314.2" stroke="#262626" stroke-width="2"/>
<line x1="355.5" y1="314.2" x2="352.1" y2="314.2" stroke="#262626" stroke-width="2"/>
<line x1="147.5" y1="336.9" x2="150.9" y2="336.9" stroke="#262626" stroke-width="2"/>
<line x1="355.5" y1="336.9" x2="352.1" y2="336.9" stroke="#262626" stroke-width="2"/>
<line x1="147.5" y1="359.6" x2="150.9" y2="359.6" stroke="#262626" stroke-width="2"/>
<line x1="355.5" y1="359.6" x2="352.1" y2="359.6" stroke="#262626" stroke-width="2"/>
<rect x="147.5" y="299.3" width="208" height="60.1" fill="none" stroke="#262626" stroke-width="2.5"/>
<text transform="translate(138.9,321.3) scale(1.0,1)" x="0" y="0" font-size="19.5" fill="#262626" text-anchor="end">1000</text>
<text transform="translate(138.9,344) scale(1.0,1)" x="0" y="0" font-size="19.5" fill="#262626" text-anchor="end">500</text>
<text transform="translate(138.9,366.7) scale(1.0,1)" x="0" y="0" font-size="19.5" fill="#262626" text-anchor="end">0</text>
<text transform="translate(84.3,329.35) rotate(-90) scale(0.9676,1)" x="0" y="0" font-size="21.5" fill="#262626" text-anchor="middle"><tspan>MIXDEPTH</tspan></text>
<circle cx="173.5" cy="310.19" r="4.2" fill="none" stroke="#0072bd" stroke-width="2.1"/>
<circle cx="175.23" cy="312.14" r="4.2" fill="none" stroke="#0072bd" stroke-width="2.1"/>
<circle cx="176.97" cy="316.05" r="4.2" fill="none" stroke="#0072bd" stroke-width="2.1"/>
<circle cx="178.7" cy="317.94" r="4.2" fill="none" stroke="#0072bd" stroke-width="2.1"/>
<circle cx="180.43" cy="317.51" r="4.2" fill="none" stroke="#0072bd" stroke-width="2.1"/>
<circle cx="182.17" cy="315.82" r="4.2" fill="none" stroke="#0072bd" stroke-width="2.1"/>
<circle cx="183.9" cy="316.11" r="4.2" fill="none" stroke="#0072bd" stroke-width="2.1"/>
<circle cx="185.63" cy="318.38" r="4.2" fill="none" stroke="#0072bd" stroke-width="2.1"/>
<circle cx="187.37" cy="321.6" r="4.2" fill="none" stroke="#0072bd" stroke-width="2.1"/>
<circle cx="189.1" cy="322.55" r="4.2" fill="none" stroke="#0072bd" stroke-width="2.1"/>
<circle cx="190.83" cy="321.65" r="4.2" fill="none" stroke="#0072bd" stroke-width="2.1"/>
<circle cx="192.57" cy="317.41" r="4.2" fill="none" stroke="#0072bd" stroke-width="2.1"/>
<circle cx="194.3" cy="313.74" r="4.2" fill="none" stroke="#0072bd" stroke-width="2.1"/>
<circle cx="196.03" cy="310.32" r="4.2" fill="none" stroke="#0072bd" stroke-width="2.1"/>
<circle cx="197.77" cy="308.9" r="4.2" fill="none" stroke="#0072bd" stroke-width="2.1"/>
<circle cx="199.5" cy="306.08" r="4.2" fill="none" stroke="#0072bd" stroke-width="2.1"/>
<circle cx="201.23" cy="303.37" r="4.2" fill="none" stroke="#0072bd" stroke-width="2.1"/>
<circle cx="202.97" cy="301.2" r="4.2" fill="none" stroke="#0072bd" stroke-width="2.1"/>
<circle cx="204.7" cy="304.24" r="4.2" fill="none" stroke="#0072bd" stroke-width="2.1"/>
<circle cx="206.43" cy="309.27" r="4.2" fill="none" stroke="#0072bd" stroke-width="2.1"/>
<circle cx="208.17" cy="310.98" r="4.2" fill="none" stroke="#0072bd" stroke-width="2.1"/>
<circle cx="209.9" cy="312.54" r="4.2" fill="none" stroke="#0072bd" stroke-width="2.1"/>
<circle cx="211.63" cy="306.32" r="4.2" fill="none" stroke="#0072bd" stroke-width="2.1"/>
<circle cx="213.37" cy="300.9" r="4.2" fill="none" stroke="#0072bd" stroke-width="2.1"/>
<circle cx="215.1" cy="299.52" r="4.2" fill="none" stroke="#0072bd" stroke-width="2.1"/>
<circle cx="216.83" cy="357.24" r="4.2" fill="none" stroke="#0072bd" stroke-width="2.1"/>
<circle cx="218.57" cy="356.62" r="4.2" fill="none" stroke="#0072bd" stroke-width="2.1"/>
<circle cx="220.3" cy="357.93" r="4.2" fill="none" stroke="#0072bd" stroke-width="2.1"/>
<circle cx="222.03" cy="357.24" r="4.2" fill="none" stroke="#0072bd" stroke-width="2.1"/>
<circle cx="223.77" cy="356.55" r="4.2" fill="none" stroke="#0072bd" stroke-width="2.1"/>
<circle cx="225.5" cy="355.86" r="4.2" fill="none" stroke="#0072bd" stroke-width="2.1"/>
<circle cx="227.23" cy="357.52" r="4.2" fill="none" stroke="#0072bd" stroke-width="2.1"/>
<circle cx="228.97" cy="357.2" r="4.2" fill="none" stroke="#0072bd" stroke-width="2.1"/>
<circle cx="230.7" cy="356.88" r="4.2" fill="none" stroke="#0072bd" stroke-width="2.1"/>
<circle cx="232.43" cy="356.56" r="4.2" fill="none" stroke="#0072bd" stroke-width="2.1"/>
<circle cx="234.17" cy="358.24" r="4.2" fill="none" stroke="#0072bd" stroke-width="2.1"/>
<circle cx="235.9" cy="357.91" r="4.2" fill="none" stroke="#0072bd" stroke-width="2.1"/>
<circle cx="237.63" cy="357.59" r="4.2" fill="none" stroke="#0072bd" stroke-width="2.1"/>
<circle cx="239.37" cy="357.27" r="4.2" fill="none" stroke="#0072bd" stroke-width="2.1"/>
<circle cx="241.1" cy="356.83" r="4.2" fill="none" stroke="#0072bd" stroke-width="2.1"/>
<circle cx="242.83" cy="358.33" r="4.2" fill="none" stroke="#0072bd" stroke-width="2.1"/>
<circle cx="244.57" cy="357.82" r="4.2" fill="none" stroke="#0072bd" stroke-width="2.1"/>
<circle cx="246.3" cy="357.32" r="4.2" fill="none" stroke="#0072bd" stroke-width="2.1"/>
<circle cx="248.03" cy="356.82" r="4.2" fill="none" stroke="#0072bd" stroke-width="2.1"/>
<circle cx="249.77" cy="358.31" r="4.2" fill="none" stroke="#0072bd" stroke-width="2.1"/>
<circle cx="251.5" cy="357.81" r="4.2" fill="none" stroke="#0072bd" stroke-width="2.1"/>
<circle cx="253.23" cy="357.3" r="4.2" fill="none" stroke="#0072bd" stroke-width="2.1"/>
<circle cx="254.97" cy="356.8" r="4.2" fill="none" stroke="#0072bd" stroke-width="2.1"/>
<circle cx="256.7" cy="358.3" r="4.2" fill="none" stroke="#0072bd" stroke-width="2.1"/>
<circle cx="258.43" cy="357.79" r="4.2" fill="none" stroke="#0072bd" stroke-width="2.1"/>
<circle cx="260.17" cy="357.29" r="4.2" fill="none" stroke="#0072bd" stroke-width="2.1"/>
<circle cx="261.9" cy="356.84" r="4.2" fill="none" stroke="#0072bd" stroke-width="2.1"/>
<circle cx="263.63" cy="358.39" r="4.2" fill="none" stroke="#0072bd" stroke-width="2.1"/>
<circle cx="265.37" cy="357.94" r="4.2" fill="none" stroke="#0072bd" stroke-width="2.1"/>
<circle cx="267.1" cy="357.49" r="4.2" fill="none" stroke="#0072bd" stroke-width="2.1"/>
<circle cx="268.83" cy="357.03" r="4.2" fill="none" stroke="#0072bd" stroke-width="2.1"/>
<circle cx="270.57" cy="358.58" r="4.2" fill="none" stroke="#0072bd" stroke-width="2.1"/>
<circle cx="272.3" cy="358.13" r="4.2" fill="none" stroke="#0072bd" stroke-width="2.1"/>
<circle cx="274.03" cy="357.68" r="4.2" fill="none" stroke="#0072bd" stroke-width="2.1"/>
<circle cx="275.77" cy="357.22" r="4.2" fill="none" stroke="#0072bd" stroke-width="2.1"/>
<circle cx="277.5" cy="356.77" r="4.2" fill="none" stroke="#0072bd" stroke-width="2.1"/>
<circle cx="279.23" cy="358.32" r="4.2" fill="none" stroke="#0072bd" stroke-width="2.1"/>
<circle cx="280.97" cy="357.82" r="4.2" fill="none" stroke="#0072bd" stroke-width="2.1"/>
<circle cx="282.7" cy="357.29" r="4.2" fill="none" stroke="#0072bd" stroke-width="2.1"/>
<circle cx="284.43" cy="356.76" r="4.2" fill="none" stroke="#0072bd" stroke-width="2.1"/>
<circle cx="286.17" cy="358.23" r="4.2" fill="none" stroke="#0072bd" stroke-width="2.1"/>
<circle cx="287.9" cy="357.69" r="4.2" fill="none" stroke="#0072bd" stroke-width="2.1"/>
<circle cx="289.63" cy="357.16" r="4.2" fill="none" stroke="#0072bd" stroke-width="2.1"/>
<circle cx="289.8" cy="353" r="4.2" fill="none" stroke="#0072bd" stroke-width="2.1"/>
<circle cx="291.1" cy="345.4" r="4.2" fill="none" stroke="#0072bd" stroke-width="2.1"/>
<circle cx="292.4" cy="334.3" r="4.2" fill="none" stroke="#0072bd" stroke-width="2.1"/>
<circle cx="294" cy="329.8" r="4.2" fill="none" stroke="#0072bd" stroke-width="2.1"/>
<circle cx="295.8" cy="326" r="4.2" fill="none" stroke="#0072bd" stroke-width="2.1"/>
<circle cx="298" cy="321" r="4.2" fill="none" stroke="#0072bd" stroke-width="2.1"/>
<circle cx="300.6" cy="331.7" r="4.2" fill="none" stroke="#0072bd" stroke-width="2.1"/>
<circle cx="301.4" cy="343.3" r="4.2" fill="none" stroke="#0072bd" stroke-width="2.1"/>
<circle cx="301.77" cy="357.62" r="4.2" fill="none" stroke="#0072bd" stroke-width="2.1"/>
<circle cx="303.5" cy="357.06" r="4.2" fill="none" stroke="#0072bd" stroke-width="2.1"/>
<circle cx="305.23" cy="356.43" r="4.2" fill="none" stroke="#0072bd" stroke-width="2.1"/>
<circle cx="306.97" cy="357.3" r="4.2" fill="none" stroke="#0072bd" stroke-width="2.1"/>
<circle cx="308.7" cy="355.78" r="4.2" fill="none" stroke="#0072bd" stroke-width="2.1"/>
<circle cx="310.43" cy="354.26" r="4.2" fill="none" stroke="#0072bd" stroke-width="2.1"/>
<circle cx="312.17" cy="352.74" r="4.2" fill="none" stroke="#0072bd" stroke-width="2.1"/>
<circle cx="313.9" cy="353.21" r="4.2" fill="none" stroke="#0072bd" stroke-width="2.1"/>
<circle cx="315.63" cy="352.43" r="4.2" fill="none" stroke="#0072bd" stroke-width="2.1"/>
<circle cx="317.37" cy="351.87" r="4.2" fill="none" stroke="#0072bd" stroke-width="2.1"/>
<circle cx="319.1" cy="351.32" r="4.2" fill="none" stroke="#0072bd" stroke-width="2.1"/>
<circle cx="320.83" cy="350.76" r="4.2" fill="none" stroke="#0072bd" stroke-width="2.1"/>
<circle cx="322.57" cy="352.2" r="4.2" fill="none" stroke="#0072bd" stroke-width="2.1"/>
<circle cx="324.3" cy="351.64" r="4.2" fill="none" stroke="#0072bd" stroke-width="2.1"/>
<circle cx="326.03" cy="351.08" r="4.2" fill="none" stroke="#0072bd" stroke-width="2.1"/>
<circle cx="327.77" cy="350.43" r="4.2" fill="none" stroke="#0072bd" stroke-width="2.1"/>
<circle cx="329.5" cy="351.58" r="4.2" fill="none" stroke="#0072bd" stroke-width="2.1"/>
<circle cx="331.23" cy="350.72" r="4.2" fill="none" stroke="#0072bd" stroke-width="2.1"/>
<circle cx="332.97" cy="349.87" r="4.2" fill="none" stroke="#0072bd" stroke-width="2.1"/>
<circle cx="334.7" cy="349.02" r="4.2" fill="none" stroke="#0072bd" stroke-width="2.1"/>
<circle cx="336.43" cy="349.65" r="4.2" fill="none" stroke="#0072bd" stroke-width="2.1"/>
<circle cx="338.17" cy="346.75" r="4.2" fill="none" stroke="#0072bd" stroke-width="2.1"/>
<circle cx="340" cy="336" r="4.2" fill="none" stroke="#0072bd" stroke-width="2.1"/>
</g>
<g>
<line x1="532.3" y1="299.3" x2="532.3" y2="359.4" stroke="#e0e0e0" stroke-width="2.2"/>
<line x1="573.4" y1="299.3" x2="573.4" y2="359.4" stroke="#e0e0e0" stroke-width="2.2"/>
<line x1="615.4" y1="299.3" x2="615.4" y2="359.4" stroke="#e0e0e0" stroke-width="2.2"/>
<line x1="657.4" y1="299.3" x2="657.4" y2="359.4" stroke="#e0e0e0" stroke-width="2.2"/>
<line x1="490.5" y1="302.3" x2="698.5" y2="302.3" stroke="#e0e0e0" stroke-width="2.2"/>
<line x1="490.5" y1="328.3" x2="698.5" y2="328.3" stroke="#e0e0e0" stroke-width="2.2"/>
<line x1="490.5" y1="354.3" x2="698.5" y2="354.3" stroke="#e0e0e0" stroke-width="2.2"/>
<line x1="491.7" y1="349.1" x2="697.3" y2="349.1" stroke="#b0b0b0" stroke-width="1.9" stroke-dasharray="1.2 4.36" stroke-dashoffset="-0"/>
<line x1="491.7" y1="343.9" x2="697.3" y2="343.9" stroke="#b0b0b0" stroke-width="1.9" stroke-dasharray="1.2 4.36" stroke-dashoffset="-0"/>
<line x1="491.7" y1="338.7" x2="697.3" y2="338.7" stroke="#b0b0b0" stroke-width="1.9" stroke-dasharray="1.2 4.36" stroke-dashoffset="-0"/>
<line x1="491.7" y1="333.5" x2="697.3" y2="333.5" stroke="#b0b0b0" stroke-width="1.9" stroke-dasharray="1.2 4.36" stroke-dashoffset="-0"/>
<line x1="491.7" y1="323.1" x2="697.3" y2="323.1" stroke="#b0b0b0" stroke-width="1.9" stroke-dasharray="1.2 4.36" stroke-dashoffset="-0"/>
<line x1="491.7" y1="317.9" x2="697.3" y2="317.9" stroke="#b0b0b0" stroke-width="1.9" stroke-dasharray="1.2 4.36" stroke-dashoffset="-0"/>
<line x1="491.7" y1="312.7" x2="697.3" y2="312.7" stroke="#b0b0b0" stroke-width="1.9" stroke-dasharray="1.2 4.36" stroke-dashoffset="-0"/>
<line x1="491.7" y1="307.5" x2="697.3" y2="307.5" stroke="#b0b0b0" stroke-width="1.9" stroke-dasharray="1.2 4.36" stroke-dashoffset="-0"/>
<line x1="532.3" y1="359.4" x2="532.3" y2="356" stroke="#262626" stroke-width="2"/>
<line x1="532.3" y1="299.3" x2="532.3" y2="302.7" stroke="#262626" stroke-width="2"/>
<line x1="573.4" y1="359.4" x2="573.4" y2="356" stroke="#262626" stroke-width="2"/>
<line x1="573.4" y1="299.3" x2="573.4" y2="302.7" stroke="#262626" stroke-width="2"/>
<line x1="615.4" y1="359.4" x2="615.4" y2="356" stroke="#262626" stroke-width="2"/>
<line x1="615.4" y1="299.3" x2="615.4" y2="302.7" stroke="#262626" stroke-width="2"/>
<line x1="657.4" y1="359.4" x2="657.4" y2="356" stroke="#262626" stroke-width="2"/>
<line x1="657.4" y1="299.3" x2="657.4" y2="302.7" stroke="#262626" stroke-width="2"/>
<line x1="490.5" y1="302.3" x2="493.9" y2="302.3" stroke="#262626" stroke-width="2"/>
<line x1="698.5" y1="302.3" x2="695.1" y2="302.3" stroke="#262626" stroke-width="2"/>
<line x1="490.5" y1="328.3" x2="493.9" y2="328.3" stroke="#262626" stroke-width="2"/>
<line x1="698.5" y1="328.3" x2="695.1" y2="328.3" stroke="#262626" stroke-width="2"/>
<line x1="490.5" y1="354.3" x2="493.9" y2="354.3" stroke="#262626" stroke-width="2"/>
<line x1="698.5" y1="354.3" x2="695.1" y2="354.3" stroke="#262626" stroke-width="2"/>
<rect x="490.5" y="299.3" width="208" height="60.1" fill="none" stroke="#262626" stroke-width="2.5"/>
<text transform="translate(481.9,309.4) scale(1.0,1)" x="0" y="0" font-size="19.5" fill="#262626" text-anchor="end">3</text>
<text transform="translate(481.9,335.4) scale(1.0,1)" x="0" y="0" font-size="19.5" fill="#262626" text-anchor="end">2</text>
<text transform="translate(481.9,361.4) scale(1.0,1)" x="0" y="0" font-size="19.5" fill="#262626" text-anchor="end">1</text>
<text transform="translate(460.3,329.35) rotate(-90) scale(0.9818,1)" x="0" y="0" font-size="21.5" fill="#262626" text-anchor="middle"><tspan>H2OMIXRA</tspan></text>
<circle cx="517" cy="356" r="4.2" fill="none" stroke="#0072bd" stroke-width="2.1"/>
<circle cx="518.5" cy="353.5" r="4.2" fill="none" stroke="#0072bd" stroke-width="2.1"/>
<circle cx="520" cy="357.5" r="4.2" fill="none" stroke="#0072bd" stroke-width="2.1"/>
<circle cx="521.5" cy="355" r="4.2" fill="none" stroke="#0072bd" stroke-width="2.1"/>
<circle cx="523" cy="358.5" r="4.2" fill="none" stroke="#0072bd" stroke-width="2.1"/>
<circle cx="525" cy="354" r="4.2" fill="none" stroke="#0072bd" stroke-width="2.1"/>
<circle cx="527" cy="351" r="4.2" fill="none" stroke="#0072bd" stroke-width="2.1"/>
<circle cx="529" cy="349.5" r="4.2" fill="none" stroke="#0072bd" stroke-width="2.1"/>
<circle cx="531" cy="347.5" r="4.2" fill="none" stroke="#0072bd" stroke-width="2.1"/>
<circle cx="533" cy="346" r="4.2" fill="none" stroke="#0072bd" stroke-width="2.1"/>
<circle cx="535" cy="345" r="4.2" fill="none" stroke="#0072bd" stroke-width="2.1"/>
<circle cx="537.5" cy="344" r="4.2" fill="none" stroke="#0072bd" stroke-width="2.1"/>
<circle cx="539.5" cy="346" r="4.2" fill="none" stroke="#0072bd" stroke-width="2.1"/>
<circle cx="541.5" cy="345" r="4.2" fill="none" stroke="#0072bd" stroke-width="2.1"/>
<circle cx="543.5" cy="347.5" r="4.2" fill="none" stroke="#0072bd" stroke-width="2.1"/>
<circle cx="545.5" cy="346" r="4.2" fill="none" stroke="#0072bd" stroke-width="2.1"/>
<circle cx="547.5" cy="344.5" r="4.2" fill="none" stroke="#0072bd" stroke-width="2.1"/>
<circle cx="549" cy="347.5" r="4.2" fill="none" stroke="#0072bd" stroke-width="2.1"/>
<circle cx="550.8" cy="354.4" r="4.2" fill="none" stroke="#0072bd" stroke-width="2.1"/>
<circle cx="552.5" cy="349" r="4.2" fill="none" stroke="#0072bd" stroke-width="2.1"/>
<circle cx="554" cy="345" r="4.2" fill="none" stroke="#0072bd" stroke-width="2.1"/>
<circle cx="556.5" cy="341.5" r="4.2" fill="none" stroke="#0072bd" stroke-width="2.1"/>
<circle cx="557.9" cy="328" r="4.2" fill="none" stroke="#0072bd" stroke-width="2.1"/>
<circle cx="558.5" cy="316" r="4.2" fill="none" stroke="#0072bd" stroke-width="2.1"/>
<circle cx="560" cy="315" r="4.2" fill="none" stroke="#0072bd" stroke-width="2.1"/>
<circle cx="561.5" cy="314.2" r="4.2" fill="none" stroke="#0072bd" stroke-width="2.1"/>
<circle cx="563.9" cy="323.2" r="4.2" fill="none" stroke="#0072bd" stroke-width="2.1"/>
<circle cx="564.5" cy="316" r="4.2" fill="none" stroke="#0072bd" stroke-width="2.1"/>
<circle cx="566.3" cy="313" r="4.2" fill="none" stroke="#0072bd" stroke-width="2.1"/>
<circle cx="568.5" cy="314.5" r="4.2" fill="none" stroke="#0072bd" stroke-width="2.1"/>
<circle cx="570.5" cy="312.4" r="4.2" fill="none" stroke="#0072bd" stroke-width="2.1"/>
<circle cx="571.7" cy="325" r="4.2" fill="none" stroke="#0072bd" stroke-width="2.1"/>
<circle cx="573.5" cy="333.4" r="4.2" fill="none" stroke="#0072bd" stroke-width="2.1"/>
<circle cx="575.5" cy="330" r="4.2" fill="none" stroke="#0072bd" stroke-width="2.1"/>
<circle cx="578" cy="327.5" r="4.2" fill="none" stroke="#0072bd" stroke-width="2.1"/>
<circle cx="580.63" cy="327.05" r="4.2" fill="none" stroke="#0072bd" stroke-width="2.1"/>
<circle cx="582.37" cy="326.4" r="4.2" fill="none" stroke="#0072bd" stroke-width="2.1"/>
<circle cx="584.1" cy="325.76" r="4.2" fill="none" stroke="#0072bd" stroke-width="2.1"/>
<circle cx="585.83" cy="328.31" r="4.2" fill="none" stroke="#0072bd" stroke-width="2.1"/>
<circle cx="587.57" cy="327.73" r="4.2" fill="none" stroke="#0072bd" stroke-width="2.1"/>
<circle cx="589.3" cy="327.49" r="4.2" fill="none" stroke="#0072bd" stroke-width="2.1"/>
<circle cx="591.03" cy="327.24" r="4.2" fill="none" stroke="#0072bd" stroke-width="2.1"/>
<circle cx="592.77" cy="330.2" r="4.2" fill="none" stroke="#0072bd" stroke-width="2.1"/>
<circle cx="594.5" cy="329.96" r="4.2" fill="none" stroke="#0072bd" stroke-width="2.1"/>
<circle cx="596.23" cy="329.81" r="4.2" fill="none" stroke="#0072bd" stroke-width="2.1"/>
<circle cx="597.97" cy="329.83" r="4.2" fill="none" stroke="#0072bd" stroke-width="2.1"/>
<circle cx="599.7" cy="333.06" r="4.2" fill="none" stroke="#0072bd" stroke-width="2.1"/>
<circle cx="601.43" cy="333.48" r="4.2" fill="none" stroke="#0072bd" stroke-width="2.1"/>
<circle cx="603.17" cy="333.98" r="4.2" fill="none" stroke="#0072bd" stroke-width="2.1"/>
<circle cx="604.9" cy="333.35" r="4.2" fill="none" stroke="#0072bd" stroke-width="2.1"/>
<circle cx="606.63" cy="334.59" r="4.2" fill="none" stroke="#0072bd" stroke-width="2.1"/>
<circle cx="608.37" cy="330.84" r="4.2" fill="none" stroke="#0072bd" stroke-width="2.1"/>
<circle cx="610.1" cy="324.96" r="4.2" fill="none" stroke="#0072bd" stroke-width="2.1"/>
<circle cx="611.83" cy="318.26" r="4.2" fill="none" stroke="#0072bd" stroke-width="2.1"/>
<circle cx="613.57" cy="318.17" r="4.2" fill="none" stroke="#0072bd" stroke-width="2.1"/>
<circle cx="615.3" cy="316.91" r="4.2" fill="none" stroke="#0072bd" stroke-width="2.1"/>
<circle cx="617.03" cy="316.12" r="4.2" fill="none" stroke="#0072bd" stroke-width="2.1"/>
<circle cx="618.77" cy="315.64" r="4.2" fill="none" stroke="#0072bd" stroke-width="2.1"/>
<circle cx="620.5" cy="315.17" r="4.2" fill="none" stroke="#0072bd" stroke-width="2.1"/>
<circle cx="622.23" cy="317.89" r="4.2" fill="none" stroke="#0072bd" stroke-width="2.1"/>
<circle cx="623.97" cy="317.42" r="4.2" fill="none" stroke="#0072bd" stroke-width="2.1"/>
<circle cx="625.7" cy="316.94" r="4.2" fill="none" stroke="#0072bd" stroke-width="2.1"/>
<circle cx="627.43" cy="316.46" r="4.2" fill="none" stroke="#0072bd" stroke-width="2.1"/>
<circle cx="629.17" cy="318.7" r="4.2" fill="none" stroke="#0072bd" stroke-width="2.1"/>
<circle cx="630.9" cy="317.5" r="4.2" fill="none" stroke="#0072bd" stroke-width="2.1"/>
<circle cx="632.63" cy="316.31" r="4.2" fill="none" stroke="#0072bd" stroke-width="2.1"/>
<circle cx="634.37" cy="314.4" r="4.2" fill="none" stroke="#0072bd" stroke-width="2.1"/>
<circle cx="636.1" cy="313.09" r="4.2" fill="none" stroke="#0072bd" stroke-width="2.1"/>
<circle cx="637.83" cy="307.45" r="4.2" fill="none" stroke="#0072bd" stroke-width="2.1"/>
<circle cx="639.57" cy="301.47" r="4.2" fill="none" stroke="#0072bd" stroke-width="2.1"/>
<circle cx="641.3" cy="298.13" r="4.2" fill="none" stroke="#0072bd" stroke-width="2.1"/>
<circle cx="643.03" cy="302.28" r="4.2" fill="none" stroke="#0072bd" stroke-width="2.1"/>
<circle cx="644.77" cy="303.22" r="4.2" fill="none" stroke="#0072bd" stroke-width="2.1"/>
<circle cx="646.5" cy="304.16" r="4.2" fill="none" stroke="#0072bd" stroke-width="2.1"/>
<circle cx="648.23" cy="305.25" r="4.2" fill="none" stroke="#0072bd" stroke-width="2.1"/>
<circle cx="649.97" cy="309.75" r="4.2" fill="none" stroke="#0072bd" stroke-width="2.1"/>
<circle cx="651.7" cy="311.05" r="4.2" fill="none" stroke="#0072bd" stroke-width="2.1"/>
<circle cx="653.43" cy="315.49" r="4.2" fill="none" stroke="#0072bd" stroke-width="2.1"/>
<circle cx="655" cy="328.8" r="4.2" fill="none" stroke="#0072bd" stroke-width="2.1"/>
<circle cx="660.9" cy="325.4" r="4.2" fill="none" stroke="#0072bd" stroke-width="2.1"/>
<circle cx="663.4" cy="315.4" r="4.2" fill="none" stroke="#0072bd" stroke-width="2.1"/>
<circle cx="670.1" cy="318.7" r="4.2" fill="none" stroke="#0072bd" stroke-width="2.1"/>
<circle cx="676.8" cy="317.1" r="4.2" fill="none" stroke="#0072bd" stroke-width="2.1"/>
<circle cx="673.4" cy="309.5" r="4.2" fill="none" stroke="#0072bd" stroke-width="2.1"/>
<circle cx="681" cy="305.4" r="4.2" fill="none" stroke="#0072bd" stroke-width="2.1"/>
<circle cx="683.5" cy="304.5" r="4.2" fill="none" stroke="#0072bd" stroke-width="2.1"/>
<circle cx="658" cy="321" r="4.2" fill="none" stroke="#0072bd" stroke-width="2.1"/>
<circle cx="666" cy="320" r="4.2" fill="none" stroke="#0072bd" stroke-width="2.1"/>
<circle cx="678" cy="311" r="4.2" fill="none" stroke="#0072bd" stroke-width="2.1"/>
<circle cx="667" cy="316" r="4.2" fill="none" stroke="#0072bd" stroke-width="2.1"/>
<circle cx="660" cy="322" r="4.2" fill="none" stroke="#0072bd" stroke-width="2.1"/>
<circle cx="664" cy="318" r="4.2" fill="none" stroke="#0072bd" stroke-width="2.1"/>
<circle cx="670" cy="314" r="4.2" fill="none" stroke="#0072bd" stroke-width="2.1"/>
<circle cx="672" cy="313" r="4.2" fill="none" stroke="#0072bd" stroke-width="2.1"/>
<circle cx="675" cy="312" r="4.2" fill="none" stroke="#0072bd" stroke-width="2.1"/>
<circle cx="679" cy="308" r="4.2" fill="none" stroke="#0072bd" stroke-width="2.1"/>
<circle cx="662" cy="314" r="4.2" fill="none" stroke="#0072bd" stroke-width="2.1"/>
<circle cx="669" cy="320" r="4.2" fill="none" stroke="#0072bd" stroke-width="2.1"/>
</g>
<g>
<line x1="188.3" y1="427.3" x2="188.3" y2="487.4" stroke="#e0e0e0" stroke-width="2.2"/>
<line x1="230.5" y1="427.3" x2="230.5" y2="487.4" stroke="#e0e0e0" stroke-width="2.2"/>
<line x1="272.4" y1="427.3" x2="272.4" y2="487.4" stroke="#e0e0e0" stroke-width="2.2"/>
<line x1="313.5" y1="427.3" x2="313.5" y2="487.4" stroke="#e0e0e0" stroke-width="2.2"/>
<line x1="147.5" y1="436.4" x2="355.5" y2="436.4" stroke="#e0e0e0" stroke-width="2.2"/>
<line x1="148.7" y1="477.2" x2="354.3" y2="477.2" stroke="#b0b0b0" stroke-width="1.9" stroke-dasharray="1.2 4.36" stroke-dashoffset="-0"/>
<line x1="148.7" y1="467" x2="354.3" y2="467" stroke="#b0b0b0" stroke-width="1.9" stroke-dasharray="1.2 4.36" stroke-dashoffset="-0"/>
<line x1="148.7" y1="456.8" x2="354.3" y2="456.8" stroke="#b0b0b0" stroke-width="1.9" stroke-dasharray="1.2 4.36" stroke-dashoffset="-0"/>
<line x1="148.7" y1="446.6" x2="354.3" y2="446.6" stroke="#b0b0b0" stroke-width="1.9" stroke-dasharray="1.2 4.36" stroke-dashoffset="-0"/>
<line x1="188.3" y1="487.4" x2="188.3" y2="484" stroke="#262626" stroke-width="2"/>
<line x1="188.3" y1="427.3" x2="188.3" y2="430.7" stroke="#262626" stroke-width="2"/>
<line x1="230.5" y1="487.4" x2="230.5" y2="484" stroke="#262626" stroke-width="2"/>
<line x1="230.5" y1="427.3" x2="230.5" y2="430.7" stroke="#262626" stroke-width="2"/>
<line x1="272.4" y1="487.4" x2="272.4" y2="484" stroke="#262626" stroke-width="2"/>
<line x1="272.4" y1="427.3" x2="272.4" y2="430.7" stroke="#262626" stroke-width="2"/>
<line x1="313.5" y1="487.4" x2="313.5" y2="484" stroke="#262626" stroke-width="2"/>
<line x1="313.5" y1="427.3" x2="313.5" y2="430.7" stroke="#262626" stroke-width="2"/>
<line x1="147.5" y1="436.4" x2="150.9" y2="436.4" stroke="#262626" stroke-width="2"/>
<line x1="355.5" y1="436.4" x2="352.1" y2="436.4" stroke="#262626" stroke-width="2"/>
<line x1="147.5" y1="487.4" x2="150.9" y2="487.4" stroke="#262626" stroke-width="2"/>
<line x1="355.5" y1="487.4" x2="352.1" y2="487.4" stroke="#262626" stroke-width="2"/>
<rect x="147.5" y="427.3" width="208" height="60.1" fill="none" stroke="#262626" stroke-width="2.5"/>
<text transform="translate(138.9,443.5) scale(1.0,1)" x="0" y="0" font-size="19.5" fill="#262626" text-anchor="end">500</text>
<text transform="translate(138.9,494.5) scale(1.0,1)" x="0" y="0" font-size="19.5" fill="#262626" text-anchor="end">0</text>
<text transform="translate(85.5,457.35) rotate(-90) scale(0.9133,1)" x="0" y="0" font-size="21.5" fill="#262626" text-anchor="middle"><tspan>TERR</tspan><tspan font-size="17" dy="10.2">M</tspan><tspan font-size="21.5" dy="-10.2">SL</tspan></text>
<circle cx="173.5" cy="487.4" r="4.2" fill="none" stroke="#0072bd" stroke-width="2.1"/>
<circle cx="175.23" cy="487.4" r="4.2" fill="none" stroke="#0072bd" stroke-width="2.1"/>
<circle cx="176.97" cy="487.4" r="4.2" fill="none" stroke="#0072bd" stroke-width="2.1"/>
<circle cx="178.7" cy="487.4" r="4.2" fill="none" stroke="#0072bd" stroke-width="2.1"/>
<circle cx="180.43" cy="487.4" r="4.2" fill="none" stroke="#0072bd" stroke-width="2.1"/>
<circle cx="182.17" cy="487.4" r="4.2" fill="none" stroke="#0072bd" stroke-width="2.1"/>
<circle cx="183.9" cy="487.4" r="4.2" fill="none" stroke="#0072bd" stroke-width="2.1"/>
<circle cx="185.63" cy="487.4" r="4.2" fill="none" stroke="#0072bd" stroke-width="2.1"/>
<circle cx="187.37" cy="487.4" r="4.2" fill="none" stroke="#0072bd" stroke-width="2.1"/>
<circle cx="189.1" cy="487.4" r="4.2" fill="none" stroke="#0072bd" stroke-width="2.1"/>
<circle cx="190.83" cy="487.4" r="4.2" fill="none" stroke="#0072bd" stroke-width="2.1"/>
<circle cx="192.57" cy="487.4" r="4.2" fill="none" stroke="#0072bd" stroke-width="2.1"/>
<circle cx="194.3" cy="487.4" r="4.2" fill="none" stroke="#0072bd" stroke-width="2.1"/>
<circle cx="196.03" cy="487.4" r="4.2" fill="none" stroke="#0072bd" stroke-width="2.1"/>
<circle cx="197.77" cy="487.4" r="4.2" fill="none" stroke="#0072bd" stroke-width="2.1"/>
<circle cx="199.5" cy="487.4" r="4.2" fill="none" stroke="#0072bd" stroke-width="2.1"/>
<circle cx="201.23" cy="487.4" r="4.2" fill="none" stroke="#0072bd" stroke-width="2.1"/>
<circle cx="202.97" cy="487.4" r="4.2" fill="none" stroke="#0072bd" stroke-width="2.1"/>
<circle cx="203.6" cy="469.3" r="4.2" fill="none" stroke="#0072bd" stroke-width="2.1"/>
<circle cx="205" cy="469.2" r="4.2" fill="none" stroke="#0072bd" stroke-width="2.1"/>
<circle cx="207.8" cy="427.5" r="4.2" fill="none" stroke="#0072bd" stroke-width="2.1"/>
<circle cx="210.5" cy="449.5" r="4.2" fill="none" stroke="#0072bd" stroke-width="2.1"/>
<circle cx="211.3" cy="447.8" r="4.2" fill="none" stroke="#0072bd" stroke-width="2.1"/>
<circle cx="213.2" cy="457.3" r="4.2" fill="none" stroke="#0072bd" stroke-width="2.1"/>
<circle cx="214.9" cy="468.6" r="4.2" fill="none" stroke="#0072bd" stroke-width="2.1"/>
<circle cx="216.83" cy="487.4" r="4.2" fill="none" stroke="#0072bd" stroke-width="2.1"/>
<circle cx="218.57" cy="487.4" r="4.2" fill="none" stroke="#0072bd" stroke-width="2.1"/>
<circle cx="220.3" cy="487.4" r="4.2" fill="none" stroke="#0072bd" stroke-width="2.1"/>
<circle cx="222.03" cy="487.4" r="4.2" fill="none" stroke="#0072bd" stroke-width="2.1"/>
<circle cx="223.77" cy="487.4" r="4.2" fill="none" stroke="#0072bd" stroke-width="2.1"/>
<circle cx="225.5" cy="487.4" r="4.2" fill="none" stroke="#0072bd" stroke-width="2.1"/>
<circle cx="227.23" cy="487.4" r="4.2" fill="none" stroke="#0072bd" stroke-width="2.1"/>
<circle cx="228.97" cy="487.4" r="4.2" fill="none" stroke="#0072bd" stroke-width="2.1"/>
<circle cx="230.7" cy="487.4" r="4.2" fill="none" stroke="#0072bd" stroke-width="2.1"/>
<circle cx="232.43" cy="487.4" r="4.2" fill="none" stroke="#0072bd" stroke-width="2.1"/>
<circle cx="234.17" cy="487.4" r="4.2" fill="none" stroke="#0072bd" stroke-width="2.1"/>
<circle cx="235.9" cy="487.4" r="4.2" fill="none" stroke="#0072bd" stroke-width="2.1"/>
<circle cx="237.63" cy="487.4" r="4.2" fill="none" stroke="#0072bd" stroke-width="2.1"/>
<circle cx="239.37" cy="487.4" r="4.2" fill="none" stroke="#0072bd" stroke-width="2.1"/>
<circle cx="241.1" cy="487.4" r="4.2" fill="none" stroke="#0072bd" stroke-width="2.1"/>
<circle cx="242.83" cy="487.4" r="4.2" fill="none" stroke="#0072bd" stroke-width="2.1"/>
<circle cx="244.57" cy="487.4" r="4.2" fill="none" stroke="#0072bd" stroke-width="2.1"/>
<circle cx="246.3" cy="487.4" r="4.2" fill="none" stroke="#0072bd" stroke-width="2.1"/>
<circle cx="248.03" cy="487.4" r="4.2" fill="none" stroke="#0072bd" stroke-width="2.1"/>
<circle cx="249.77" cy="487.4" r="4.2" fill="none" stroke="#0072bd" stroke-width="2.1"/>
<circle cx="251.5" cy="487.4" r="4.2" fill="none" stroke="#0072bd" stroke-width="2.1"/>
<circle cx="253.23" cy="487.4" r="4.2" fill="none" stroke="#0072bd" stroke-width="2.1"/>
<circle cx="254.97" cy="487.4" r="4.2" fill="none" stroke="#0072bd" stroke-width="2.1"/>
<circle cx="256.7" cy="487.4" r="4.2" fill="none" stroke="#0072bd" stroke-width="2.1"/>
<circle cx="258.43" cy="487.4" r="4.2" fill="none" stroke="#0072bd" stroke-width="2.1"/>
<circle cx="260.17" cy="487.4" r="4.2" fill="none" stroke="#0072bd" stroke-width="2.1"/>
<circle cx="261.9" cy="487.4" r="4.2" fill="none" stroke="#0072bd" stroke-width="2.1"/>
<circle cx="263.63" cy="487.4" r="4.2" fill="none" stroke="#0072bd" stroke-width="2.1"/>
<circle cx="265.37" cy="487.4" r="4.2" fill="none" stroke="#0072bd" stroke-width="2.1"/>
<circle cx="267.1" cy="487.4" r="4.2" fill="none" stroke="#0072bd" stroke-width="2.1"/>
<circle cx="268.83" cy="487.4" r="4.2" fill="none" stroke="#0072bd" stroke-width="2.1"/>
<circle cx="270.57" cy="487.4" r="4.2" fill="none" stroke="#0072bd" stroke-width="2.1"/>
<circle cx="272.3" cy="487.4" r="4.2" fill="none" stroke="#0072bd" stroke-width="2.1"/>
<circle cx="274.03" cy="487.4" r="4.2" fill="none" stroke="#0072bd" stroke-width="2.1"/>
<circle cx="275.77" cy="487.4" r="4.2" fill="none" stroke="#0072bd" stroke-width="2.1"/>
<circle cx="277.5" cy="487.4" r="4.2" fill="none" stroke="#0072bd" stroke-width="2.1"/>
<circle cx="279.23" cy="487.06" r="4.2" fill="none" stroke="#0072bd" stroke-width="2.1"/>
<circle cx="280.97" cy="484.55" r="4.2" fill="none" stroke="#0072bd" stroke-width="2.1"/>
<circle cx="282.7" cy="485.56" r="4.2" fill="none" stroke="#0072bd" stroke-width="2.1"/>
<circle cx="284.43" cy="486.65" r="4.2" fill="none" stroke="#0072bd" stroke-width="2.1"/>
<circle cx="286.17" cy="486.3" r="4.2" fill="none" stroke="#0072bd" stroke-width="2.1"/>
<circle cx="287.9" cy="485.26" r="4.2" fill="none" stroke="#0072bd" stroke-width="2.1"/>
<circle cx="289.63" cy="484.23" r="4.2" fill="none" stroke="#0072bd" stroke-width="2.1"/>
<circle cx="291.37" cy="483.37" r="4.2" fill="none" stroke="#0072bd" stroke-width="2.1"/>
<circle cx="293.1" cy="482.5" r="4.2" fill="none" stroke="#0072bd" stroke-width="2.1"/>
<circle cx="294.83" cy="481.63" r="4.2" fill="none" stroke="#0072bd" stroke-width="2.1"/>
<circle cx="296.57" cy="480.77" r="4.2" fill="none" stroke="#0072bd" stroke-width="2.1"/>
<circle cx="298.3" cy="479.9" r="4.2" fill="none" stroke="#0072bd" stroke-width="2.1"/>
<circle cx="300.03" cy="478.84" r="4.2" fill="none" stroke="#0072bd" stroke-width="2.1"/>
<circle cx="301.77" cy="477.61" r="4.2" fill="none" stroke="#0072bd" stroke-width="2.1"/>
<circle cx="303.5" cy="476.38" r="4.2" fill="none" stroke="#0072bd" stroke-width="2.1"/>
<circle cx="305.23" cy="475.16" r="4.2" fill="none" stroke="#0072bd" stroke-width="2.1"/>
<circle cx="306.97" cy="473.93" r="4.2" fill="none" stroke="#0072bd" stroke-width="2.1"/>
<circle cx="308.7" cy="472.7" r="4.2" fill="none" stroke="#0072bd" stroke-width="2.1"/>
<circle cx="310.43" cy="471.39" r="4.2" fill="none" stroke="#0072bd" stroke-width="2.1"/>
<circle cx="312.17" cy="470.08" r="4.2" fill="none" stroke="#0072bd" stroke-width="2.1"/>
<circle cx="313.9" cy="468" r="4.2" fill="none" stroke="#0072bd" stroke-width="2.1"/>
<circle cx="315.6" cy="461.8" r="4.2" fill="none" stroke="#0072bd" stroke-width="2.1"/>
<circle cx="317" cy="472.5" r="4.2" fill="none" stroke="#0072bd" stroke-width="2.1"/>
<circle cx="319.2" cy="480.9" r="4.2" fill="none" stroke="#0072bd" stroke-width="2.1"/>
<circle cx="319.1" cy="487" r="4.2" fill="none" stroke="#0072bd" stroke-width="2.1"/>
<circle cx="320.83" cy="487" r="4.2" fill="none" stroke="#0072bd" stroke-width="2.1"/>
<circle cx="322.57" cy="487" r="4.2" fill="none" stroke="#0072bd" stroke-width="2.1"/>
<circle cx="324.3" cy="487" r="4.2" fill="none" stroke="#0072bd" stroke-width="2.1"/>
<circle cx="326.03" cy="487" r="4.2" fill="none" stroke="#0072bd" stroke-width="2.1"/>
<circle cx="327.77" cy="487" r="4.2" fill="none" stroke="#0072bd" stroke-width="2.1"/>
<circle cx="329.5" cy="487" r="4.2" fill="none" stroke="#0072bd" stroke-width="2.1"/>
<circle cx="331.23" cy="487" r="4.2" fill="none" stroke="#0072bd" stroke-width="2.1"/>
<circle cx="332.97" cy="487" r="4.2" fill="none" stroke="#0072bd" stroke-width="2.1"/>
<circle cx="334.7" cy="487" r="4.2" fill="none" stroke="#0072bd" stroke-width="2.1"/>
<circle cx="336.43" cy="487" r="4.2" fill="none" stroke="#0072bd" stroke-width="2.1"/>
<circle cx="338.17" cy="486.79" r="4.2" fill="none" stroke="#0072bd" stroke-width="2.1"/>
<circle cx="339.9" cy="484.62" r="4.2" fill="none" stroke="#0072bd" stroke-width="2.1"/>
</g>
<g>
<line x1="532.3" y1="427.3" x2="532.3" y2="487.4" stroke="#e0e0e0" stroke-width="2.2"/>
<line x1="573.4" y1="427.3" x2="573.4" y2="487.4" stroke="#e0e0e0" stroke-width="2.2"/>
<line x1="615.4" y1="427.3" x2="615.4" y2="487.4" stroke="#e0e0e0" stroke-width="2.2"/>
<line x1="657.4" y1="427.3" x2="657.4" y2="487.4" stroke="#e0e0e0" stroke-width="2.2"/>
<line x1="491.7" y1="475.4" x2="697.3" y2="475.4" stroke="#b0b0b0" stroke-width="1.9" stroke-dasharray="1.2 4.36" stroke-dashoffset="-0"/>
<line x1="491.7" y1="463.4" x2="697.3" y2="463.4" stroke="#b0b0b0" stroke-width="1.9" stroke-dasharray="1.2 4.36" stroke-dashoffset="-0"/>
<line x1="491.7" y1="451.4" x2="697.3" y2="451.4" stroke="#b0b0b0" stroke-width="1.9" stroke-dasharray="1.2 4.36" stroke-dashoffset="-0"/>
<line x1="491.7" y1="439.4" x2="697.3" y2="439.4" stroke="#b0b0b0" stroke-width="1.9" stroke-dasharray="1.2 4.36" stroke-dashoffset="-0"/>
<line x1="532.3" y1="487.4" x2="532.3" y2="484" stroke="#262626" stroke-width="2"/>
<line x1="532.3" y1="427.3" x2="532.3" y2="430.7" stroke="#262626" stroke-width="2"/>
<line x1="573.4" y1="487.4" x2="573.4" y2="484" stroke="#262626" stroke-width="2"/>
<line x1="573.4" y1="427.3" x2="573.4" y2="430.7" stroke="#262626" stroke-width="2"/>
<line x1="615.4" y1="487.4" x2="615.4" y2="484" stroke="#262626" stroke-width="2"/>
<line x1="615.4" y1="427.3" x2="615.4" y2="430.7" stroke="#262626" stroke-width="2"/>
<line x1="657.4" y1="487.4" x2="657.4" y2="484" stroke="#262626" stroke-width="2"/>
<line x1="657.4" y1="427.3" x2="657.4" y2="430.7" stroke="#262626" stroke-width="2"/>
<line x1="490.5" y1="427.4" x2="493.9" y2="427.4" stroke="#262626" stroke-width="2"/>
<line x1="698.5" y1="427.4" x2="695.1" y2="427.4" stroke="#262626" stroke-width="2"/>
<line x1="490.5" y1="487.4" x2="493.9" y2="487.4" stroke="#262626" stroke-width="2"/>
<line x1="698.5" y1="487.4" x2="695.1" y2="487.4" stroke="#262626" stroke-width="2"/>
<rect x="490.5" y="427.3" width="208" height="60.1" fill="none" stroke="#262626" stroke-width="2.5"/>
<text transform="translate(481.9,434.5) scale(1.0,1)" x="0" y="0" font-size="19.5" fill="#262626" text-anchor="end">500</text>
<text transform="translate(481.9,494.5) scale(1.0,1)" x="0" y="0" font-size="19.5" fill="#262626" text-anchor="end">0</text>
<text transform="translate(399,457.35) rotate(-90) scale(0.9844,1)" x="0" y="0" font-size="21.5" fill="#262626" text-anchor="middle"><tspan>SUN</tspan><tspan font-size="17" dy="10.2">F</tspan><tspan font-size="21.5" dy="-10.2">LUX</tspan></text>
<circle cx="515.9" cy="467.4" r="4.2" fill="none" stroke="#0072bd" stroke-width="2.1"/>
<circle cx="518" cy="468" r="4.2" fill="none" stroke="#0072bd" stroke-width="2.1"/>
<circle cx="520.4" cy="469.3" r="4.2" fill="none" stroke="#0072bd" stroke-width="2.1"/>
<circle cx="523" cy="476.4" r="4.2" fill="none" stroke="#0072bd" stroke-width="2.1"/>
<circle cx="524.3" cy="480.3" r="4.2" fill="none" stroke="#0072bd" stroke-width="2.1"/>
<circle cx="526.9" cy="487.4" r="4.2" fill="none" stroke="#0072bd" stroke-width="2.1"/>
<circle cx="528.63" cy="487.4" r="4.2" fill="none" stroke="#0072bd" stroke-width="2.1"/>
<circle cx="530.37" cy="487.4" r="4.2" fill="none" stroke="#0072bd" stroke-width="2.1"/>
<circle cx="532.1" cy="487.4" r="4.2" fill="none" stroke="#0072bd" stroke-width="2.1"/>
<circle cx="533.83" cy="487.4" r="4.2" fill="none" stroke="#0072bd" stroke-width="2.1"/>
<circle cx="535.57" cy="487.4" r="4.2" fill="none" stroke="#0072bd" stroke-width="2.1"/>
<circle cx="537.3" cy="487.4" r="4.2" fill="none" stroke="#0072bd" stroke-width="2.1"/>
<circle cx="539.03" cy="487.4" r="4.2" fill="none" stroke="#0072bd" stroke-width="2.1"/>
<circle cx="540.77" cy="487.4" r="4.2" fill="none" stroke="#0072bd" stroke-width="2.1"/>
<circle cx="542.5" cy="487.4" r="4.2" fill="none" stroke="#0072bd" stroke-width="2.1"/>
<circle cx="544.23" cy="487.12" r="4.2" fill="none" stroke="#0072bd" stroke-width="2.1"/>
<circle cx="545.97" cy="485.04" r="4.2" fill="none" stroke="#0072bd" stroke-width="2.1"/>
<circle cx="547.7" cy="481.6" r="4.2" fill="none" stroke="#0072bd" stroke-width="2.1"/>
<circle cx="549.3" cy="470.6" r="4.2" fill="none" stroke="#0072bd" stroke-width="2.1"/>
<circle cx="550.6" cy="467.4" r="4.2" fill="none" stroke="#0072bd" stroke-width="2.1"/>
<circle cx="552.6" cy="457.8" r="4.2" fill="none" stroke="#0072bd" stroke-width="2.1"/>
<circle cx="554.5" cy="450" r="4.2" fill="none" stroke="#0072bd" stroke-width="2.1"/>
<circle cx="555.8" cy="447.5" r="4.2" fill="none" stroke="#0072bd" stroke-width="2.1"/>
<circle cx="557.7" cy="445.6" r="4.2" fill="none" stroke="#0072bd" stroke-width="2.1"/>
<circle cx="559" cy="447" r="4.2" fill="none" stroke="#0072bd" stroke-width="2.1"/>
<circle cx="560.3" cy="452" r="4.2" fill="none" stroke="#0072bd" stroke-width="2.1"/>
<circle cx="562.2" cy="456.5" r="4.2" fill="none" stroke="#0072bd" stroke-width="2.1"/>
<circle cx="563.5" cy="463.6" r="4.2" fill="none" stroke="#0072bd" stroke-width="2.1"/>
<circle cx="564.8" cy="471.3" r="4.2" fill="none" stroke="#0072bd" stroke-width="2.1"/>
<circle cx="566.7" cy="479" r="4.2" fill="none" stroke="#0072bd" stroke-width="2.1"/>
<circle cx="568.5" cy="487.4" r="4.2" fill="none" stroke="#0072bd" stroke-width="2.1"/>
<circle cx="570.23" cy="487.4" r="4.2" fill="none" stroke="#0072bd" stroke-width="2.1"/>
<circle cx="571.97" cy="487.4" r="4.2" fill="none" stroke="#0072bd" stroke-width="2.1"/>
<circle cx="573.7" cy="487.4" r="4.2" fill="none" stroke="#0072bd" stroke-width="2.1"/>
<circle cx="575.43" cy="487.4" r="4.2" fill="none" stroke="#0072bd" stroke-width="2.1"/>
<circle cx="577.17" cy="487.4" r="4.2" fill="none" stroke="#0072bd" stroke-width="2.1"/>
<circle cx="578.9" cy="487.4" r="4.2" fill="none" stroke="#0072bd" stroke-width="2.1"/>
<circle cx="580.63" cy="487.4" r="4.2" fill="none" stroke="#0072bd" stroke-width="2.1"/>
<circle cx="582.37" cy="487.4" r="4.2" fill="none" stroke="#0072bd" stroke-width="2.1"/>
<circle cx="584.1" cy="487.4" r="4.2" fill="none" stroke="#0072bd" stroke-width="2.1"/>
<circle cx="586" cy="474.5" r="4.2" fill="none" stroke="#0072bd" stroke-width="2.1"/>
<circle cx="587.3" cy="462.9" r="4.2" fill="none" stroke="#0072bd" stroke-width="2.1"/>
<circle cx="588.5" cy="450" r="4.2" fill="none" stroke="#0072bd" stroke-width="2.1"/>
<circle cx="590.5" cy="445.6" r="4.2" fill="none" stroke="#0072bd" stroke-width="2.1"/>
<circle cx="592.4" cy="440.4" r="4.2" fill="none" stroke="#0072bd" stroke-width="2.1"/>
<circle cx="594" cy="437" r="4.2" fill="none" stroke="#0072bd" stroke-width="2.1"/>
<circle cx="595" cy="435.3" r="4.2" fill="none" stroke="#0072bd" stroke-width="2.1"/>
<circle cx="597" cy="435" r="4.2" fill="none" stroke="#0072bd" stroke-width="2.1"/>
<circle cx="598.5" cy="436.5" r="4.2" fill="none" stroke="#0072bd" stroke-width="2.1"/>
<circle cx="600.1" cy="437.9" r="4.2" fill="none" stroke="#0072bd" stroke-width="2.1"/>
<circle cx="601.4" cy="444.3" r="4.2" fill="none" stroke="#0072bd" stroke-width="2.1"/>
<circle cx="602.7" cy="451.3" r="4.2" fill="none" stroke="#0072bd" stroke-width="2.1"/>
<circle cx="604.6" cy="457.8" r="4.2" fill="none" stroke="#0072bd" stroke-width="2.1"/>
<circle cx="606.6" cy="467.4" r="4.2" fill="none" stroke="#0072bd" stroke-width="2.1"/>
<circle cx="608.5" cy="477.1" r="4.2" fill="none" stroke="#0072bd" stroke-width="2.1"/>
<circle cx="610.1" cy="487.4" r="4.2" fill="none" stroke="#0072bd" stroke-width="2.1"/>
<circle cx="611.83" cy="487.4" r="4.2" fill="none" stroke="#0072bd" stroke-width="2.1"/>
<circle cx="613.57" cy="487.4" r="4.2" fill="none" stroke="#0072bd" stroke-width="2.1"/>
<circle cx="615.3" cy="487.4" r="4.2" fill="none" stroke="#0072bd" stroke-width="2.1"/>
<circle cx="617.03" cy="487.4" r="4.2" fill="none" stroke="#0072bd" stroke-width="2.1"/>
<circle cx="618.77" cy="487.4" r="4.2" fill="none" stroke="#0072bd" stroke-width="2.1"/>
<circle cx="620.5" cy="487.4" r="4.2" fill="none" stroke="#0072bd" stroke-width="2.1"/>
<circle cx="622.23" cy="487.4" r="4.2" fill="none" stroke="#0072bd" stroke-width="2.1"/>
<circle cx="623.97" cy="486.54" r="4.2" fill="none" stroke="#0072bd" stroke-width="2.1"/>
<circle cx="625.7" cy="485" r="4.2" fill="none" stroke="#0072bd" stroke-width="2.1"/>
<circle cx="627.8" cy="474.5" r="4.2" fill="none" stroke="#0072bd" stroke-width="2.1"/>
<circle cx="629.1" cy="462.9" r="4.2" fill="none" stroke="#0072bd" stroke-width="2.1"/>
<circle cx="631" cy="452" r="4.2" fill="none" stroke="#0072bd" stroke-width="2.1"/>
<circle cx="632.3" cy="446.9" r="4.2" fill="none" stroke="#0072bd" stroke-width="2.1"/>
<circle cx="633.6" cy="443" r="4.2" fill="none" stroke="#0072bd" stroke-width="2.1"/>
<circle cx="635.5" cy="437.9" r="4.2" fill="none" stroke="#0072bd" stroke-width="2.1"/>
<circle cx="637" cy="436" r="4.2" fill="none" stroke="#0072bd" stroke-width="2.1"/>
<circle cx="638.7" cy="434" r="4.2" fill="none" stroke="#0072bd" stroke-width="2.1"/>
<circle cx="640" cy="433" r="4.2" fill="none" stroke="#0072bd" stroke-width="2.1"/>
<circle cx="641.3" cy="432.1" r="4.2" fill="none" stroke="#0072bd" stroke-width="2.1"/>
<circle cx="642.5" cy="434" r="4.2" fill="none" stroke="#0072bd" stroke-width="2.1"/>
<circle cx="643.8" cy="439.1" r="4.2" fill="none" stroke="#0072bd" stroke-width="2.1"/>
<circle cx="645.1" cy="447.5" r="4.2" fill="none" stroke="#0072bd" stroke-width="2.1"/>
<circle cx="646.4" cy="454.6" r="4.2" fill="none" stroke="#0072bd" stroke-width="2.1"/>
<circle cx="648.3" cy="464.8" r="4.2" fill="none" stroke="#0072bd" stroke-width="2.1"/>
<circle cx="650.3" cy="475.8" r="4.2" fill="none" stroke="#0072bd" stroke-width="2.1"/>
<circle cx="651.7" cy="487.4" r="4.2" fill="none" stroke="#0072bd" stroke-width="2.1"/>
<circle cx="653.43" cy="487.4" r="4.2" fill="none" stroke="#0072bd" stroke-width="2.1"/>
<circle cx="655.17" cy="487.4" r="4.2" fill="none" stroke="#0072bd" stroke-width="2.1"/>
<circle cx="656.9" cy="487.4" r="4.2" fill="none" stroke="#0072bd" stroke-width="2.1"/>
<circle cx="658.63" cy="487.4" r="4.2" fill="none" stroke="#0072bd" stroke-width="2.1"/>
<circle cx="660.37" cy="487.4" r="4.2" fill="none" stroke="#0072bd" stroke-width="2.1"/>
<circle cx="662.1" cy="487.4" r="4.2" fill="none" stroke="#0072bd" stroke-width="2.1"/>
<circle cx="663.83" cy="487.4" r="4.2" fill="none" stroke="#0072bd" stroke-width="2.1"/>
<circle cx="665.57" cy="486.3" r="4.2" fill="none" stroke="#0072bd" stroke-width="2.1"/>
<circle cx="667.3" cy="485.5" r="4.2" fill="none" stroke="#0072bd" stroke-width="2.1"/>
<circle cx="668.9" cy="473.8" r="4.2" fill="none" stroke="#0072bd" stroke-width="2.1"/>
<circle cx="670.8" cy="461.6" r="4.2" fill="none" stroke="#0072bd" stroke-width="2.1"/>
<circle cx="672.1" cy="448.8" r="4.2" fill="none" stroke="#0072bd" stroke-width="2.1"/>
<circle cx="674" cy="444.3" r="4.2" fill="none" stroke="#0072bd" stroke-width="2.1"/>
<circle cx="676" cy="439.1" r="4.2" fill="none" stroke="#0072bd" stroke-width="2.1"/>
<circle cx="677.9" cy="435.3" r="4.2" fill="none" stroke="#0072bd" stroke-width="2.1"/>
<circle cx="679.8" cy="439.1" r="4.2" fill="none" stroke="#0072bd" stroke-width="2.1"/>
<circle cx="682.4" cy="444.3" r="4.2" fill="none" stroke="#0072bd" stroke-width="2.1"/>
<circle cx="683.7" cy="448.8" r="4.2" fill="none" stroke="#0072bd" stroke-width="2.1"/>
</g>
<text transform="translate(160.8,509.7) rotate(-45) scale(1.045,1)" x="0" y="0" font-size="19.5" fill="#262626" text-anchor="end">03/18</text>
<text transform="translate(202.4,509.7) rotate(-45) scale(1.045,1)" x="0" y="0" font-size="19.5" fill="#262626" text-anchor="end">03/19</text>
<text transform="translate(244,509.7) rotate(-45) scale(1.045,1)" x="0" y="0" font-size="19.5" fill="#262626" text-anchor="end">03/20</text>
<text transform="translate(285.6,509.7) rotate(-45) scale(1.045,1)" x="0" y="0" font-size="19.5" fill="#262626" text-anchor="end">03/21</text>
<text transform="translate(327.2,509.7) rotate(-45) scale(1.045,1)" x="0" y="0" font-size="19.5" fill="#262626" text-anchor="end">03/22</text>
<text transform="translate(368.8,509.7) rotate(-45) scale(1.045,1)" x="0" y="0" font-size="19.5" fill="#262626" text-anchor="end">03/23</text>
<text transform="translate(251,576) scale(1.04,1)" x="0" y="0" font-size="21.5" fill="#262626" text-anchor="middle">Time</text>
<text transform="translate(503.8,509.7) rotate(-45) scale(1.045,1)" x="0" y="0" font-size="19.5" fill="#262626" text-anchor="end">03/18</text>
<text transform="translate(545.4,509.7) rotate(-45) scale(1.045,1)" x="0" y="0" font-size="19.5" fill="#262626" text-anchor="end">03/19</text>
<text transform="translate(587,509.7) rotate(-45) scale(1.045,1)" x="0" y="0" font-size="19.5" fill="#262626" text-anchor="end">03/20</text>
<text transform="translate(628.6,509.7) rotate(-45) scale(1.045,1)" x="0" y="0" font-size="19.5" fill="#262626" text-anchor="end">03/21</text>
<text transform="translate(670.2,509.7) rotate(-45) scale(1.045,1)" x="0" y="0" font-size="19.5" fill="#262626" text-anchor="end">03/22</text>
<text transform="translate(711.8,509.7) rotate(-45) scale(1.045,1)" x="0" y="0" font-size="19.5" fill="#262626" text-anchor="end">03/23</text>
<text transform="translate(594,576) scale(1.04,1)" x="0" y="0" font-size="21.5" fill="#262626" text-anchor="middle">Time</text>
<text transform="translate(251.8,31.9) scale(1.0,1)" x="0" y="0" font-size="20.5" font-weight="bold" letter-spacing="1.1" fill="#000" text-anchor="middle">Figure 3 medium</text>
</svg></body></html>
